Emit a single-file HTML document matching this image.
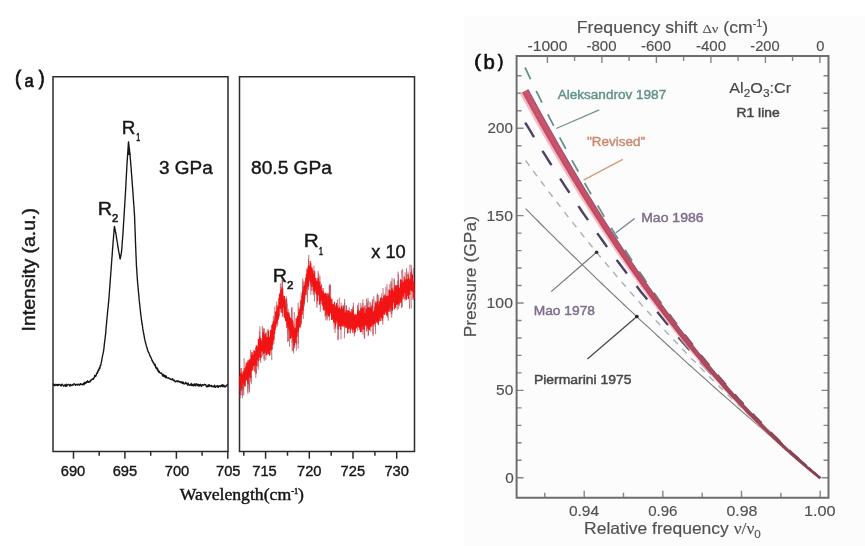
<!DOCTYPE html>
<html><head><meta charset="utf-8"><title>Ruby fluorescence pressure scale</title>
<style>html,body{margin:0;padding:0;background:#fff;}body{width:865px;height:546px;overflow:hidden;}svg{display:block;}</style>
</head><body>
<svg width="865" height="546" viewBox="0 0 865 546">
<rect width="865" height="546" fill="#fff"/>
<rect x="464" y="16" width="401" height="530" fill="#fcfcfc"/>
<g fill="none" stroke="#2b2b2b" stroke-width="1.5">
<path d="M53.0,76.8 H228.0 V451.5 H53.0 Z"/>
<path d="M239.5,76.8 H414.5 V451.5 H239.5 Z"/>
</g>
<path d="M73.5,451.5 v7.2 M124.9,451.5 v7.2 M176.4,451.5 v7.2 M227.8,451.5 v7.2 M99.2,451.5 v4.2 M150.7,451.5 v4.2 M202.1,451.5 v4.2 M265.6,451.5 v7.2 M309.3,451.5 v7.2 M353.0,451.5 v7.2 M396.7,451.5 v7.2 M243.8,451.5 v4.2 M287.5,451.5 v4.2 M331.2,451.5 v4.2 M374.9,451.5 v4.2" stroke="#2b2b2b" stroke-width="1.5" fill="none"/>
<path d="M128.4,144 L127.6,155 L130.6,155 Z" fill="#222"/>
<path d="M53.0,384.7 L53.6,384.3 L54.2,385.7 L54.9,384.2 L55.5,385.5 L56.1,385.1 L56.8,384.4 L57.4,385.6 L58.0,384.4 L58.6,385.4 L59.2,384.3 L59.9,384.3 L60.5,385.1 L61.1,386.1 L61.8,384.2 L62.4,384.4 L63.0,385.3 L63.6,386.2 L64.2,385.3 L64.9,384.9 L65.5,386.4 L66.1,384.1 L66.8,386.2 L67.4,384.8 L68.0,384.5 L68.6,384.4 L69.2,384.8 L69.9,386.1 L70.5,384.4 L71.1,385.4 L71.8,385.5 L72.4,384.8 L73.0,385.2 L73.6,383.9 L74.2,383.9 L74.9,384.2 L75.5,385.4 L76.1,384.7 L76.8,384.3 L77.4,385.0 L78.0,384.6 L78.6,384.1 L79.2,385.2 L79.8,384.9 L80.4,383.6 L81.0,384.3 L81.6,384.1 L82.2,384.9 L82.8,384.4 L83.4,383.2 L84.0,384.8 L84.6,382.3 L85.2,382.9 L85.8,383.5 L86.4,381.7 L87.0,382.3 L87.6,380.8 L88.2,382.2 L88.8,382.2 L89.4,381.4 L90.0,382.0 L90.5,380.1 L91.0,380.6 L91.5,379.9 L92.0,379.5 L92.5,378.7 L93.0,379.3 L93.5,379.1 L94.0,377.4 L94.4,377.4 L94.7,375.4 L95.1,376.5 L95.5,375.9 L95.8,376.3 L96.2,375.3 L96.5,373.4 L96.9,373.2 L97.3,373.4 L97.6,371.3 L98.0,371.9 L98.2,370.5 L98.5,369.8 L98.8,369.1 L99.0,370.3 L99.2,368.0 L99.5,367.7 L99.8,367.5 L100.0,368.2 L100.2,365.5 L100.5,365.9 L100.6,365.5 L100.8,365.3 L100.9,364.6 L101.0,364.0 L101.2,362.7 L101.3,362.3 L101.4,361.6 L101.5,361.7 L101.7,361.1 L101.8,359.6 L101.9,359.0 L102.0,358.4 L102.2,357.8 L102.3,357.5 L102.4,357.0 L102.5,356.0 L102.6,355.0 L102.8,354.9 L102.9,354.2 L103.0,353.8 L103.1,353.7 L103.2,352.7 L103.3,351.9 L103.5,351.4 L103.6,350.8 L103.7,349.5 L103.8,349.9 L103.8,349.1 L103.9,348.6 L104.0,348.0 L104.1,346.9 L104.1,346.3 L104.2,345.3 L104.3,345.4 L104.3,344.1 L104.4,343.5 L104.5,343.1 L104.6,342.4 L104.6,342.0 L104.7,341.1 L104.8,340.4 L104.9,340.0 L104.9,339.3 L105.0,339.0 L105.1,338.0 L105.1,338.4 L105.2,337.5 L105.3,336.4 L105.4,335.9 L105.4,335.4 L105.5,334.8 L105.6,333.9 L105.6,334.2 L105.7,333.8 L105.7,332.5 L105.8,331.9 L105.8,330.9 L105.9,330.3 L105.9,330.0 L106.0,329.3 L106.0,329.3 L106.1,327.9 L106.1,327.1 L106.2,327.6 L106.2,326.5 L106.3,325.5 L106.4,325.3 L106.4,324.1 L106.5,324.1 L106.5,324.0 L106.6,323.3 L106.6,322.5 L106.7,321.4 L106.7,320.9 L106.8,320.0 L106.8,320.1 L106.9,319.3 L106.9,318.9 L107.0,317.8 L107.1,317.1 L107.1,317.2 L107.2,316.8 L107.2,316.0 L107.3,315.4 L107.4,314.8 L107.4,314.1 L107.5,312.9 L107.5,312.6 L107.6,311.8 L107.7,310.8 L107.7,310.2 L107.8,309.9 L107.8,309.3 L107.9,309.2 L108.0,308.9 L108.0,307.7 L108.1,307.7 L108.1,307.2 L108.2,306.5 L108.3,305.2 L108.3,304.5 L108.4,303.9 L108.4,303.2 L108.5,302.6 L108.6,302.5 L108.6,302.3 L108.7,301.6 L108.7,300.6 L108.8,300.2 L108.8,299.8 L108.9,298.3 L108.9,298.4 L109.0,298.1 L109.0,297.3 L109.1,296.7 L109.1,295.7 L109.2,294.8 L109.2,294.9 L109.3,293.7 L109.3,293.7 L109.3,293.3 L109.4,292.0 L109.4,291.4 L109.5,291.4 L109.5,290.6 L109.6,289.3 L109.6,288.6 L109.7,288.1 L109.7,288.4 L109.8,287.6 L109.8,286.2 L109.8,286.5 L109.9,286.0 L109.9,285.0 L110.0,284.1 L110.0,283.7 L110.1,282.6 L110.1,281.8 L110.2,282.4 L110.2,281.4 L110.3,280.6 L110.3,280.5 L110.3,279.3 L110.4,279.2 L110.4,278.6 L110.5,277.3 L110.5,276.7 L110.6,276.2 L110.6,275.5 L110.7,275.3 L110.7,274.3 L110.8,273.9 L110.8,273.0 L110.8,273.3 L110.9,272.0 L110.9,271.5 L111.0,271.1 L111.0,270.9 L111.1,269.7 L111.1,269.7 L111.2,268.6 L111.2,268.0 L111.2,267.4 L111.3,266.2 L111.3,266.1 L111.4,265.2 L111.4,264.4 L111.5,264.8 L111.5,263.4 L111.5,263.2 L111.6,262.9 L111.6,262.1 L111.7,261.2 L111.7,260.8 L111.8,260.3 L111.8,259.9 L111.8,258.5 L111.9,258.5 L111.9,257.5 L112.0,256.9 L112.0,256.9 L112.1,256.0 L112.1,255.5 L112.2,255.1 L112.2,254.7 L112.2,253.5 L112.3,253.1 L112.3,252.4 L112.4,251.8 L112.4,251.4 L112.5,250.5 L112.5,250.0 L112.5,249.4 L112.6,249.3 L112.6,248.4 L112.7,248.0 L112.7,247.5 L112.8,246.1 L112.8,245.8 L112.9,245.7 L112.9,244.9 L113.0,243.5 L113.0,242.9 L113.1,242.6 L113.1,241.6 L113.2,241.2 L113.2,240.4 L113.3,240.5 L113.3,240.0 L113.4,239.5 L113.4,238.0 L113.5,238.1 L113.5,237.4 L113.6,236.2 L113.6,236.5 L113.6,236.0 L113.7,234.5 L113.8,234.7 L113.8,233.5 L113.8,233.0 L113.9,233.0 L114.0,232.2 L114.0,230.8 L114.0,230.5 L114.1,230.0 L114.2,229.2 L114.2,228.4 L114.2,228.0 L114.3,227.9 L114.4,226.4 L114.4,226.5 L114.5,227.0 L114.7,227.1 L114.8,228.1 L114.9,229.0 L115.1,229.5 L115.2,229.6 L115.3,231.3 L115.5,231.7 L115.6,232.6 L115.7,232.2 L115.8,233.0 L115.9,233.3 L116.0,234.8 L116.1,234.8 L116.2,235.3 L116.3,236.3 L116.4,237.5 L116.5,238.0 L116.6,238.0 L116.7,238.5 L116.8,240.0 L116.9,240.2 L117.0,241.0 L117.1,240.9 L117.2,241.5 L117.3,242.9 L117.4,243.2 L117.5,243.4 L117.6,245.0 L117.7,245.3 L117.8,246.1 L117.9,245.9 L118.0,247.4 L118.1,247.1 L118.2,248.7 L118.3,248.8 L118.4,249.3 L118.5,250.2 L118.6,251.3 L118.7,251.1 L118.8,251.6 L118.9,252.6 L119.0,252.9 L119.2,253.4 L119.3,254.1 L119.4,254.5 L119.5,255.3 L119.6,256.1 L119.7,256.7 L119.8,257.9 L120.0,257.9 L120.1,258.8 L120.2,259.0 L120.3,258.6 L120.4,257.6 L120.5,257.3 L120.6,256.4 L120.7,256.6 L120.8,255.8 L121.0,254.7 L121.1,254.4 L121.2,254.4 L121.3,252.8 L121.4,253.0 L121.5,251.9 L121.5,251.4 L121.6,251.2 L121.7,250.0 L121.7,249.5 L121.8,249.1 L121.8,248.9 L121.8,247.5 L121.9,247.5 L122.0,246.7 L122.0,246.0 L122.0,245.1 L122.1,244.4 L122.2,243.5 L122.2,242.9 L122.2,242.3 L122.3,242.4 L122.3,241.2 L122.4,240.5 L122.5,239.8 L122.5,240.1 L122.5,239.5 L122.6,238.7 L122.6,237.6 L122.7,236.9 L122.8,236.4 L122.8,236.0 L122.8,235.0 L122.9,234.7 L122.9,233.9 L122.9,234.2 L123.0,233.6 L123.0,232.5 L123.1,231.5 L123.1,231.8 L123.1,230.4 L123.2,229.8 L123.2,228.8 L123.2,228.7 L123.3,228.2 L123.3,227.6 L123.4,226.6 L123.4,226.4 L123.4,225.2 L123.5,224.9 L123.5,224.1 L123.5,223.9 L123.6,222.9 L123.6,222.2 L123.7,222.0 L123.7,221.3 L123.7,221.1 L123.8,220.4 L123.8,220.1 L123.8,219.4 L123.9,218.9 L123.9,218.5 L124.0,217.3 L124.0,216.6 L124.0,216.8 L124.1,215.2 L124.1,215.3 L124.1,214.6 L124.2,213.2 L124.2,213.6 L124.2,213.0 L124.3,212.1 L124.3,211.6 L124.4,211.1 L124.4,209.7 L124.4,209.6 L124.5,209.0 L124.5,208.7 L124.5,208.1 L124.6,207.5 L124.6,206.6 L124.7,206.4 L124.7,205.5 L124.7,204.9 L124.8,203.8 L124.8,202.9 L124.8,202.5 L124.9,202.1 L124.9,201.2 L124.9,201.5 L125.0,200.5 L125.0,200.0 L125.1,199.4 L125.1,198.9 L125.1,198.0 L125.2,196.9 L125.2,197.2 L125.2,196.5 L125.3,195.6 L125.3,195.1 L125.4,194.6 L125.4,193.3 L125.4,193.5 L125.5,192.3 L125.5,191.5 L125.5,191.1 L125.6,191.1 L125.6,189.8 L125.6,189.9 L125.7,189.5 L125.7,188.3 L125.7,187.6 L125.8,187.1 L125.8,186.7 L125.8,186.2 L125.9,185.4 L125.9,184.9 L125.9,183.6 L126.0,183.1 L126.0,182.6 L126.0,182.6 L126.1,181.4 L126.1,181.1 L126.1,179.8 L126.2,179.3 L126.2,178.9 L126.2,178.8 L126.2,178.2 L126.3,177.6 L126.3,176.5 L126.3,176.2 L126.4,175.5 L126.4,174.9 L126.4,173.9 L126.5,174.2 L126.5,172.8 L126.5,173.1 L126.6,172.4 L126.6,170.7 L126.6,170.6 L126.7,170.5 L126.7,170.0 L126.7,168.8 L126.8,168.0 L126.8,167.3 L126.8,167.6 L126.9,166.1 L126.9,165.9 L126.9,164.8 L127.0,164.6 L127.0,164.5 L127.0,163.0 L127.1,163.2 L127.1,162.2 L127.2,162.0 L127.2,161.2 L127.2,160.0 L127.3,160.2 L127.3,159.1 L127.4,158.0 L127.4,157.4 L127.4,157.3 L127.5,156.7 L127.5,155.9 L127.6,155.1 L127.6,154.7 L127.6,154.1 L127.7,154.1 L127.7,152.5 L127.8,152.8 L127.8,152.3 L127.9,150.8 L127.9,151.2 L127.9,150.3 L128.0,150.0 L128.0,148.6 L128.1,148.1 L128.1,147.5 L128.1,147.6 L128.2,146.6 L128.2,145.7 L128.3,145.1 L128.3,144.4 L128.3,143.5 L128.4,142.9 L128.4,143.2 L128.5,141.9 L128.5,142.1 L128.6,141.9 L128.6,142.5 L128.7,143.4 L128.8,143.7 L128.9,144.5 L128.9,145.8 L129.0,146.3 L129.1,146.9 L129.1,147.3 L129.2,148.2 L129.3,148.9 L129.3,149.0 L129.4,149.8 L129.5,149.6 L129.6,151.1 L129.6,151.3 L129.7,152.3 L129.8,152.8 L129.8,152.9 L129.9,153.3 L129.9,154.9 L130.0,154.6 L130.0,155.6 L130.1,156.0 L130.1,156.6 L130.2,157.7 L130.2,158.6 L130.3,158.3 L130.4,159.4 L130.4,159.6 L130.5,160.5 L130.5,160.9 L130.6,161.2 L130.6,161.8 L130.7,162.4 L130.7,163.9 L130.8,164.0 L130.8,164.3 L130.9,165.7 L130.9,166.4 L131.0,166.4 L131.0,166.6 L131.1,167.3 L131.1,167.8 L131.2,168.7 L131.2,169.0 L131.3,169.8 L131.3,170.4 L131.3,171.4 L131.4,172.4 L131.4,172.8 L131.5,173.0 L131.5,173.6 L131.6,174.4 L131.6,174.8 L131.7,175.4 L131.7,175.6 L131.8,176.5 L131.8,178.0 L131.9,177.6 L131.9,178.6 L131.9,179.4 L132.0,180.3 L132.0,180.1 L132.1,180.8 L132.1,181.4 L132.2,182.1 L132.2,182.8 L132.3,184.0 L132.3,184.5 L132.4,185.1 L132.4,184.7 L132.4,185.4 L132.5,186.8 L132.5,187.6 L132.6,187.7 L132.6,188.5 L132.7,188.4 L132.7,189.4 L132.8,190.7 L132.8,191.2 L132.9,191.8 L132.9,192.6 L132.9,192.3 L133.0,192.7 L133.0,193.4 L133.1,194.4 L133.1,195.2 L133.2,196.2 L133.2,196.5 L133.2,197.0 L133.3,197.8 L133.3,198.0 L133.4,198.7 L133.4,198.7 L133.4,200.2 L133.5,200.2 L133.5,201.6 L133.6,201.9 L133.6,202.1 L133.7,202.4 L133.7,203.2 L133.7,204.3 L133.8,204.9 L133.8,204.9 L133.9,205.4 L133.9,206.6 L134.0,207.2 L134.0,207.6 L134.0,208.0 L134.1,209.1 L134.1,209.0 L134.2,209.9 L134.2,210.7 L134.2,211.9 L134.3,212.1 L134.3,213.0 L134.4,213.2 L134.4,213.5 L134.5,214.1 L134.5,215.6 L134.5,215.8 L134.5,216.0 L134.6,216.2 L134.6,217.4 L134.6,218.2 L134.6,218.5 L134.7,218.9 L134.7,220.0 L134.7,220.9 L134.7,220.7 L134.7,221.0 L134.8,222.0 L134.8,222.7 L134.8,223.6 L134.8,223.6 L134.9,225.0 L134.9,225.5 L134.9,225.8 L134.9,226.0 L134.9,227.6 L135.0,227.4 L135.0,228.6 L135.0,228.5 L135.0,229.1 L135.1,230.3 L135.1,230.4 L135.1,231.7 L135.1,231.8 L135.1,232.0 L135.2,232.7 L135.2,233.5 L135.2,234.4 L135.2,235.3 L135.2,235.0 L135.3,235.9 L135.3,236.3 L135.3,237.8 L135.3,237.4 L135.4,237.9 L135.4,238.5 L135.4,239.5 L135.4,240.7 L135.4,241.3 L135.5,241.7 L135.5,242.6 L135.5,243.1 L135.5,243.0 L135.6,243.4 L135.6,244.9 L135.6,245.3 L135.6,245.0 L135.6,246.4 L135.7,246.7 L135.7,247.3 L135.7,247.8 L135.7,248.2 L135.8,248.6 L135.8,249.6 L135.8,250.3 L135.8,251.6 L135.9,251.2 L135.9,252.8 L135.9,252.5 L135.9,253.3 L136.0,254.5 L136.0,255.1 L136.0,255.2 L136.0,255.4 L136.1,256.5 L136.1,257.0 L136.1,258.2 L136.1,258.0 L136.2,258.8 L136.2,260.0 L136.2,259.6 L136.2,260.7 L136.3,261.7 L136.3,262.3 L136.3,262.0 L136.3,262.6 L136.4,263.3 L136.4,264.9 L136.4,264.7 L136.4,265.9 L136.5,266.7 L136.5,266.6 L136.6,267.1 L136.6,268.5 L136.6,268.7 L136.7,268.9 L136.7,270.1 L136.8,270.2 L136.8,270.7 L136.8,271.0 L136.9,272.5 L136.9,273.3 L137.0,273.6 L137.0,274.5 L137.0,274.0 L137.1,274.9 L137.1,275.8 L137.2,276.9 L137.2,277.5 L137.2,277.5 L137.3,277.9 L137.3,278.7 L137.4,279.4 L137.4,280.5 L137.5,280.2 L137.5,281.6 L137.6,282.1 L137.6,282.8 L137.7,283.4 L137.7,283.8 L137.8,284.0 L137.8,284.6 L137.9,285.3 L137.9,286.4 L138.0,286.2 L138.1,286.9 L138.1,288.2 L138.2,288.2 L138.2,288.6 L138.3,289.1 L138.3,290.4 L138.4,290.7 L138.4,292.1 L138.5,292.6 L138.5,293.3 L138.6,293.1 L138.7,293.4 L138.7,294.1 L138.8,295.1 L138.8,296.0 L138.9,296.3 L138.9,296.7 L139.0,297.5 L139.0,298.3 L139.1,299.0 L139.1,299.7 L139.2,300.4 L139.3,300.8 L139.3,300.7 L139.4,302.2 L139.5,302.2 L139.5,303.1 L139.6,303.4 L139.7,304.5 L139.7,304.4 L139.8,305.1 L139.9,305.7 L139.9,306.2 L140.0,307.7 L140.1,307.9 L140.1,308.2 L140.2,308.9 L140.3,310.2 L140.3,310.2 L140.4,310.5 L140.5,311.8 L140.5,312.2 L140.6,313.2 L140.7,312.7 L140.7,313.8 L140.8,314.8 L140.9,315.4 L140.9,316.1 L141.0,315.6 L141.1,316.6 L141.1,316.9 L141.2,317.6 L141.3,319.2 L141.4,319.3 L141.5,320.3 L141.6,320.2 L141.6,321.4 L141.7,321.5 L141.8,321.9 L141.9,323.1 L142.0,323.9 L142.1,323.5 L142.2,324.7 L142.3,325.3 L142.4,325.5 L142.5,326.2 L142.6,326.6 L142.6,327.2 L142.7,327.9 L142.8,328.9 L142.9,329.6 L143.0,329.6 L143.1,330.0 L143.2,331.0 L143.3,332.1 L143.4,332.1 L143.6,332.9 L143.7,333.4 L143.8,334.7 L143.9,335.1 L144.0,335.1 L144.1,335.8 L144.2,336.7 L144.4,337.6 L144.5,338.3 L144.6,338.3 L144.7,339.0 L144.8,340.2 L145.0,340.5 L145.1,341.0 L145.3,341.6 L145.5,343.0 L145.7,342.8 L145.8,343.8 L146.0,344.1 L146.2,344.8 L146.3,345.9 L146.5,346.7 L146.7,346.6 L146.8,347.0 L147.0,348.2 L147.2,348.2 L147.4,348.6 L147.5,350.3 L147.7,350.3 L148.0,351.4 L148.2,351.4 L148.5,352.6 L148.7,352.7 L149.0,352.9 L149.2,353.3 L149.5,354.5 L149.7,355.2 L150.0,356.1 L150.3,355.7 L150.5,356.9 L150.8,357.2 L151.0,357.9 L151.3,358.1 L151.5,358.8 L151.8,359.7 L152.0,360.7 L152.3,360.3 L152.6,361.3 L152.9,362.2 L153.3,362.9 L153.6,362.5 L153.9,363.0 L154.2,364.5 L154.5,365.1 L154.8,365.0 L155.2,364.4 L155.5,367.2 L155.8,366.3 L156.1,368.2 L156.4,368.0 L156.8,369.0 L157.1,367.8 L157.4,370.0 L157.7,369.0 L158.0,370.0 L158.3,371.7 L158.7,372.2 L159.0,371.0 L159.3,371.7 L159.8,372.5 L160.3,373.2 L160.9,373.3 L161.4,373.0 L161.9,373.7 L162.4,375.4 L163.0,376.2 L163.5,374.4 L164.0,376.2 L164.6,376.9 L165.1,375.3 L165.7,377.7 L166.3,376.1 L166.8,377.6 L167.4,377.8 L168.0,378.2 L168.6,377.7 L169.1,378.2 L169.7,378.9 L170.3,378.8 L170.9,379.6 L171.5,379.3 L172.1,379.6 L172.6,378.7 L173.2,380.5 L173.8,380.5 L174.4,380.1 L175.0,381.7 L175.6,381.9 L176.2,381.3 L176.9,380.7 L177.5,381.7 L178.1,380.9 L178.7,381.1 L179.3,382.1 L180.0,381.4 L180.6,382.5 L181.2,382.8 L181.8,381.7 L182.5,383.4 L183.1,382.0 L183.7,383.8 L184.3,384.0 L185.0,383.4 L185.6,382.3 L186.2,383.6 L186.9,383.4 L187.5,385.0 L188.1,383.0 L188.7,384.9 L189.4,385.4 L190.0,384.8 L190.6,385.1 L191.2,383.5 L191.8,385.6 L192.5,384.4 L193.1,385.7 L193.7,385.7 L194.3,383.8 L194.9,385.5 L195.5,385.9 L196.1,383.7 L196.8,384.5 L197.4,385.6 L198.0,384.1 L198.6,386.1 L199.2,384.6 L199.8,386.0 L200.4,384.3 L201.0,385.2 L201.6,386.4 L202.2,384.6 L202.8,384.7 L203.4,385.4 L204.0,385.0 L204.6,384.3 L205.2,384.7 L205.8,384.6 L206.4,386.7 L207.0,386.1 L207.6,386.7 L208.3,384.8 L208.9,386.5 L209.5,384.8 L210.2,385.9 L210.8,386.2 L211.4,385.5 L212.1,386.9 L212.7,386.1 L213.4,386.2 L214.0,387.1 L214.6,385.1 L215.3,387.4 L215.9,386.5 L216.5,385.9 L217.1,386.9 L217.7,385.5 L218.3,387.4 L218.9,386.3 L219.6,385.7 L220.2,386.7 L220.8,385.8 L221.4,385.1 L222.0,386.5 L222.6,384.7 L223.2,386.7 L223.8,385.2 L224.4,386.2 L225.0,387.1 L225.6,386.0 L226.2,386.2 L226.8,385.3 L227.4,384.4 L228.0,384.5" stroke="#151515" stroke-width="1.35" fill="none" stroke-linejoin="round"/>
<path d="M273.0,335.0 L273.4,315.7 M367.1,320.5 L367.1,303.0 M402.3,291.7 L401.7,270.1 M243.1,376.0 L242.8,395.8 M367.1,319.2 L366.5,298.9 M304.3,291.9 L303.8,307.1 M378.8,312.7 L378.7,295.0 M307.4,280.9 L307.5,302.3 M291.2,329.4 L291.6,307.7 M298.1,327.0 L298.2,348.8 M294.0,332.7 L294.3,312.0 M344.9,318.7 L344.3,338.4 M286.1,316.0 L286.6,299.0 M247.8,374.1 L247.9,393.8 M288.0,321.5 L288.5,341.2 M300.7,316.3 L300.3,299.7 M370.7,319.1 L370.9,331.9 M321.2,297.0 L321.6,283.9 M320.3,295.2 L319.9,275.5 M341.1,318.6 L341.0,339.2 M342.7,317.2 L343.0,304.9 M303.5,296.3 L303.0,311.2 M248.2,368.8 L248.4,383.3 M377.1,312.4 L377.1,295.2 M244.1,379.9 L244.1,358.1 M338.9,316.9 L339.4,297.5 M373.6,314.6 L373.1,336.2 M275.4,322.4 L275.4,311.4 M391.6,302.1 L391.0,280.7 M344.3,322.5 L344.0,311.0 M338.4,318.1 L338.3,339.6 M318.3,292.5 L318.0,270.9 M247.2,375.5 L247.7,361.2 M385.8,306.5 L385.9,287.1 M411.5,287.5 L412.0,275.8 M357.9,322.0 L357.5,304.9 M296.7,329.4 L296.3,318.0 M281.9,297.8 L282.1,279.7 M274.4,327.5 L274.9,306.4 M390.9,299.9 L390.4,311.6 M401.6,290.6 L401.5,308.1 M383.3,305.6 L383.0,288.0 M250.3,365.3 L250.8,381.9 M286.7,315.4 L287.1,303.5 M298.5,322.6 L299.0,306.7 M260.3,349.1 L260.5,359.7 M277.1,314.9 L276.8,301.4 M303.7,297.1 L303.2,319.1 M290.7,328.3 L290.5,339.0 M410.3,284.2 L409.9,264.6 M240.8,378.4 L240.8,394.8 M398.7,291.0 L398.3,274.1 M374.2,313.1 L373.7,325.5 M346.1,318.7 L346.2,305.4 M363.3,317.9 L362.8,334.9 M367.6,316.6 L368.0,297.9 M298.7,323.2 L298.1,343.6 M398.4,292.0 L398.0,271.6 M384.8,305.4 L384.9,293.5 M241.3,380.0 L240.8,395.4 M364.5,318.5 L364.7,338.9 M306.7,283.6 L307.2,294.3 M326.3,304.0 L325.8,320.4 M408.3,283.8 L408.0,271.6 M382.3,309.9 L381.9,298.8 M243.6,378.3 L243.8,395.2 M258.3,348.2 L257.9,366.8 M326.1,301.4 L326.0,314.8 M264.3,340.6 L264.3,361.0 M370.0,321.6 L369.9,301.7 M313.5,279.0 L314.0,295.3 M375.3,313.8 L375.2,300.9 M410.7,287.4 L411.2,308.3 M249.8,371.0 L249.5,392.5 M313.7,280.4 L313.2,294.8 M315.6,282.1 L316.2,292.4 M375.2,316.7 L375.7,334.3 M394.0,296.0 L394.2,278.3 M287.9,321.0 L287.6,342.1 M330.8,306.1 L330.5,284.7 M352.8,324.2 L352.9,307.0 M287.1,316.1 L286.6,299.7 M263.3,342.4 L263.0,327.6 M255.7,357.9 L255.8,378.0 M353.3,321.1 L353.4,302.6 M346.8,319.2 L346.5,305.5 M329.4,302.7 L329.2,285.7 M390.0,300.9 L389.8,284.2 M411.8,284.2 L411.3,264.9 M391.7,298.8 L391.6,288.1 M368.1,321.9 L368.4,309.2 M267.3,344.0 L267.4,329.7 M388.0,304.5 L388.3,320.7 M372.3,318.4 L372.8,299.0 M262.6,346.0 L262.7,356.1 M326.9,303.6 L327.2,320.5 M391.9,299.0 L391.9,313.5 M366.0,319.7 L365.8,305.0 M296.4,330.6 L296.3,350.8 M272.5,336.1 L272.6,324.3 M255.8,359.2 L256.2,373.1 M406.8,289.7 L406.3,274.6 M248.7,372.8 L249.1,388.8 M333.9,313.2 L334.2,329.4 M308.1,276.5 L308.6,259.3 M357.9,319.7 L357.7,330.9 M337.9,319.5 L337.9,340.1 M316.9,285.8 L316.9,307.7 M382.1,311.8 L382.4,298.0 M329.4,306.8 L329.8,286.1 M412.3,284.5 L412.1,299.5 M329.3,303.7 L329.4,315.9 M345.1,320.9 L344.6,299.0 M311.9,277.3 L311.3,291.0 M293.3,333.2 L293.0,350.2 M326.9,305.0 L326.9,318.2 M413.5,285.1 L413.1,300.0 M372.3,315.2 L372.3,304.0 M383.3,305.1 L382.7,324.7 M374.2,314.8 L373.8,296.2 M286.8,317.4 L286.6,296.6 M318.5,292.4 L318.6,281.8 M407.0,285.6 L406.4,268.2 M402.0,293.0 L402.4,306.8 M293.2,332.0 L293.7,353.5 M282.6,298.6 L282.4,279.9 M392.4,297.3 L392.0,277.8 M302.7,300.0 L302.8,278.4 M260.4,346.0 L259.9,360.6 M261.9,343.6 L261.5,357.8 M289.7,325.5 L289.5,315.1 M267.5,341.6 L267.9,352.7 M262.7,346.2 L262.3,326.1 M301.7,310.3 L301.4,324.8 M405.5,287.9 L405.0,300.6 M363.1,320.2 L362.9,299.4 M283.2,303.2 L282.8,315.8 M329.5,307.3 L329.4,320.6 M354.6,320.4 L354.1,334.2 M271.2,340.8 L270.7,354.7 M338.0,315.6 L337.5,299.6 M294.5,335.5 L294.2,324.0 M310.5,275.4 L310.9,294.7 M263.4,344.6 L263.6,334.3 M301.5,310.5 L301.2,292.6 M387.4,301.7 L386.9,284.1 M398.9,290.3 L398.3,308.8 M268.6,342.7 L268.1,329.1 M294.4,336.1 L294.5,348.3 M364.8,320.6 L364.7,305.4 M240.7,379.2 L240.1,398.5 M388.7,300.8 L388.2,311.3 M377.8,314.2 L377.3,293.3 M361.0,321.9 L360.8,302.9 M256.1,358.9 L256.3,374.0 M368.6,318.9 L368.1,336.4 M361.6,322.4 L361.2,306.3 M372.7,318.7 L372.4,300.2 M335.3,315.4 L335.0,333.1 M250.8,364.8 L250.6,349.8 M264.2,341.2 L263.9,359.3 M329.9,305.1 L329.7,283.8 M394.0,296.4 L394.4,279.6 M335.6,316.4 L335.7,328.4 M320.5,291.7 L320.3,311.7 M303.0,297.6 L302.7,286.9 M362.2,318.7 L362.2,307.4 M303.5,293.1 L304.1,282.3 M370.7,321.3 L370.8,302.7 M259.4,346.6 L259.4,331.4 M241.9,380.2 L242.5,397.9 M353.7,319.1 L353.2,306.1 M374.9,313.2 L375.0,326.8 M387.2,305.5 L387.6,317.5 M369.3,321.0 L369.1,308.8 M304.4,291.7 L304.1,306.1 M247.7,374.1 L247.9,391.7 M397.6,294.2 L397.1,310.1 M292.5,331.9 L292.1,342.9 M317.4,285.0 L317.3,296.1 M273.6,333.8 L274.0,343.8 M377.0,314.3 L377.0,300.9 M313.6,280.9 L314.0,265.6 M397.3,294.0 L397.4,280.5 M300.9,312.0 L300.8,301.0 M409.0,288.5 L409.6,308.9 M348.0,322.3 L348.2,333.0 M292.0,329.9 L292.2,351.4 M292.4,327.9 L292.1,307.3 M358.3,321.3 L358.1,310.3 M341.3,318.9 L341.1,302.5 M260.3,347.0 L259.9,326.3 M390.1,301.1 L389.8,290.0 M325.4,303.7 L324.9,316.4 M329.5,305.2 L329.0,316.1 M316.8,287.8 L317.1,304.4 M260.4,344.2 L260.8,362.9 M308.5,276.6 L308.8,255.0 M264.2,341.2 L264.1,351.9 M243.1,377.3 L243.4,389.9 M314.4,283.9 L314.5,301.4 M399.7,293.8 L399.5,305.8 M373.0,314.3 L372.8,334.3 M368.4,316.4 L368.5,335.1 M257.8,350.0 L258.3,369.6 M357.7,320.2 L358.1,307.8 M341.4,316.2 L341.7,306.0 M272.6,336.1 L272.5,349.6 M265.5,343.3 L265.9,359.8 M405.1,286.3 L405.1,272.2 M392.0,297.3 L392.4,307.7 M358.4,318.3 L358.8,302.6 M308.8,272.9 L308.6,290.3 M278.0,309.1 L277.6,326.2 M303.1,297.7 L303.0,280.7 M241.5,376.9 L241.5,390.9 M411.6,287.1 L411.4,275.4 M287.9,320.6 L288.0,333.8 M406.5,287.8 L406.9,298.2 M391.9,300.1 L391.7,317.7 M289.4,326.3 L289.6,346.8 M293.2,332.1 L293.4,351.0 M301.3,307.8 L301.1,322.7 M296.6,329.2 L296.3,344.9 M281.2,298.2 L281.7,286.6 M319.1,290.0 L318.7,273.2 M252.0,365.7 L252.1,352.0 M403.1,290.3 L402.6,269.2 M271.5,338.0 L271.8,359.9 M314.8,282.5 L315.3,293.3 M288.4,319.3 L288.1,309.0 M362.7,317.9 L362.8,303.1 M390.4,302.0 L391.0,314.4 M344.8,322.2 L344.6,302.5 M264.2,345.0 L264.4,328.6 M400.6,293.1 L400.8,279.1 M310.8,271.2 L310.7,285.2 M248.4,370.9 L248.5,384.9 M285.1,312.0 L285.2,301.8 M411.8,287.6 L411.6,270.2 M256.7,356.5 L256.2,344.8 M381.7,309.8 L381.8,293.3 M354.6,322.5 L354.3,336.5 M363.9,318.5 L364.3,337.8 M410.1,285.2 L410.6,271.9 M263.4,344.6 L263.7,328.8 M303.4,298.1 L302.9,310.9 M245.3,376.4 L245.4,365.7 M272.0,334.9 L271.7,349.3 M368.5,316.3 L368.8,328.3 M282.6,301.1 L282.4,317.1 M379.4,313.9 L378.9,300.0 M367.7,318.6 L368.2,300.9 M250.9,368.9 L251.4,383.8 M349.3,320.3 L349.2,307.3 M280.6,302.4 L280.4,283.3 M413.0,284.9 L413.4,268.1 M391.3,301.8 L391.1,282.7 M298.0,323.3 L298.2,302.6 M344.2,322.0 L343.8,305.0" stroke="#b8404c" stroke-width="0.9" fill="none" opacity="0.85"/>
<path d="M239.80,376.1 L240.12,390.4 L240.44,372.8 L240.76,389.0 L241.08,368.1 L241.40,385.1 L241.72,373.6 L242.04,389.2 L242.36,374.9 L242.68,382.9 L243.00,371.4 L243.32,383.3 L243.64,370.9 L243.96,383.9 L244.28,368.3 L244.60,386.6 L244.92,371.2 L245.24,386.2 L245.56,367.7 L245.88,380.6 L246.20,362.4 L246.52,380.5 L246.84,368.3 L247.16,378.0 L247.48,362.8 L247.80,383.8 L248.12,360.3 L248.44,378.4 L248.76,363.9 L249.08,373.8 L249.40,359.3 L249.72,377.6 L250.04,360.8 L250.36,377.2 L250.68,358.8 L251.00,378.6 L251.32,355.0 L251.64,371.3 L251.96,352.3 L252.28,368.3 L252.60,354.5 L252.92,370.4 L253.24,356.0 L253.56,366.1 L253.88,350.0 L254.20,364.6 L254.52,350.9 L254.84,371.8 L255.16,353.3 L255.48,363.6 L255.80,347.6 L256.12,364.9 L256.44,345.8 L256.76,366.1 L257.08,348.4 L257.40,360.0 L257.72,345.8 L258.04,356.1 L258.36,338.9 L258.68,361.2 L259.00,339.0 L259.32,352.7 L259.64,336.3 L259.96,357.8 L260.28,338.5 L260.60,357.1 L260.92,338.0 L261.24,351.8 L261.56,340.5 L261.88,351.2 L262.20,340.5 L262.52,351.5 L262.84,333.4 L263.16,354.1 L263.48,331.9 L263.80,353.6 L264.12,336.5 L264.44,351.5 L264.76,334.3 L265.08,353.1 L265.40,333.5 L265.72,348.7 L266.04,332.6 L266.36,355.2 L266.68,336.7 L267.00,354.7 L267.32,338.8 L267.64,349.4 L267.96,337.1 L268.28,354.0 L268.60,330.9 L268.92,354.3 L269.24,336.8 L269.56,355.7 L269.88,337.0 L270.20,349.5 L270.52,330.1 L270.84,350.8 L271.16,329.8 L271.48,349.0 L271.80,325.1 L272.12,345.0 L272.44,324.1 L272.76,344.9 L273.08,321.8 L273.40,340.4 L273.72,320.8 L274.04,339.4 L274.36,322.4 L274.68,334.0 L275.00,317.4 L275.32,330.1 L275.64,311.6 L275.96,327.5 L276.28,316.4 L276.60,324.0 L276.92,305.0 L277.24,322.9 L277.56,308.9 L277.88,316.9 L278.20,306.6 L278.52,319.6 L278.84,298.1 L279.16,316.5 L279.48,294.0 L279.80,307.6 L280.12,292.6 L280.44,309.0 L280.76,290.1 L281.08,312.7 L281.40,289.0 L281.72,305.4 L282.04,288.8 L282.36,312.7 L282.68,287.7 L283.00,305.0 L283.32,295.6 L283.64,307.9 L283.96,300.0 L284.28,317.4 L284.60,295.9 L284.92,318.3 L285.24,298.7 L285.56,321.2 L285.88,306.4 L286.20,319.3 L286.52,311.0 L286.84,328.1 L287.16,312.5 L287.48,326.0 L287.80,312.1 L288.12,324.9 L288.44,315.1 L288.76,328.8 L289.08,312.6 L289.40,331.1 L289.72,317.6 L290.04,338.0 L290.36,317.5 L290.68,338.5 L291.00,318.0 L291.32,332.6 L291.64,321.4 L291.96,337.8 L292.28,319.5 L292.60,338.1 L292.92,321.2 L293.24,340.9 L293.56,326.7 L293.88,344.9 L294.20,328.8 L294.52,345.6 L294.84,329.2 L295.16,338.5 L295.48,327.6 L295.80,343.3 L296.12,318.6 L296.44,334.4 L296.76,321.0 L297.08,336.8 L297.40,316.1 L297.72,332.0 L298.04,316.8 L298.36,331.4 L298.68,311.7 L299.00,328.5 L299.32,308.7 L299.64,326.7 L299.96,313.2 L300.28,327.4 L300.60,306.6 L300.92,317.9 L301.24,301.1 L301.56,313.4 L301.88,295.5 L302.20,314.8 L302.52,291.3 L302.84,309.9 L303.16,290.9 L303.48,303.6 L303.80,286.4 L304.12,303.8 L304.44,284.9 L304.76,299.6 L305.08,281.5 L305.40,290.7 L305.72,277.6 L306.04,295.2 L306.36,273.7 L306.68,288.7 L307.00,268.4 L307.32,285.6 L307.64,270.5 L307.96,286.5 L308.28,266.0 L308.60,286.7 L308.92,265.2 L309.24,281.3 L309.56,266.3 L309.88,277.7 L310.20,260.9 L310.52,283.1 L310.84,263.2 L311.16,280.1 L311.48,267.3 L311.80,286.9 L312.12,267.5 L312.44,282.5 L312.76,269.9 L313.08,290.7 L313.40,273.3 L313.72,285.9 L314.04,274.2 L314.36,291.9 L314.68,270.7 L315.00,288.4 L315.32,278.2 L315.64,290.5 L315.96,278.0 L316.28,294.3 L316.60,280.8 L316.92,293.8 L317.24,281.8 L317.56,300.9 L317.88,278.2 L318.20,294.3 L318.52,277.4 L318.84,295.6 L319.16,283.9 L319.48,304.8 L319.80,281.4 L320.12,303.8 L320.44,286.0 L320.76,300.3 L321.08,285.4 L321.40,300.8 L321.72,290.6 L322.04,304.6 L322.36,293.4 L322.68,306.0 L323.00,287.9 L323.32,309.9 L323.64,291.8 L323.96,310.6 L324.28,293.4 L324.60,307.5 L324.92,293.4 L325.24,310.8 L325.56,292.7 L325.88,315.7 L326.20,295.8 L326.52,313.1 L326.84,293.4 L327.16,312.1 L327.48,298.4 L327.80,315.2 L328.12,293.0 L328.44,316.0 L328.76,295.0 L329.08,317.1 L329.40,295.5 L329.72,315.6 L330.04,298.0 L330.36,313.5 L330.68,297.6 L331.00,312.7 L331.32,300.6 L331.64,320.0 L331.96,299.1 L332.28,319.8 L332.60,304.4 L332.92,319.1 L333.24,303.7 L333.56,322.0 L333.88,305.3 L334.20,323.6 L334.52,301.8 L334.84,320.4 L335.16,305.2 L335.48,326.3 L335.80,308.0 L336.12,324.1 L336.44,303.1 L336.76,320.4 L337.08,307.4 L337.40,321.9 L337.72,305.6 L338.04,329.3 L338.36,308.3 L338.68,322.1 L339.00,308.2 L339.32,326.5 L339.64,307.3 L339.96,326.6 L340.28,308.4 L340.60,329.7 L340.92,309.7 L341.24,326.2 L341.56,306.1 L341.88,324.6 L342.20,308.7 L342.52,326.5 L342.84,308.3 L343.16,324.4 L343.48,306.5 L343.80,326.7 L344.12,315.1 L344.44,326.2 L344.76,312.3 L345.08,324.2 L345.40,312.4 L345.72,328.1 L346.04,310.1 L346.36,327.7 L346.68,314.3 L347.00,326.8 L347.32,310.3 L347.64,333.5 L347.96,312.4 L348.28,327.3 L348.60,310.2 L348.92,329.1 L349.24,315.8 L349.56,327.0 L349.88,311.0 L350.20,333.2 L350.52,312.2 L350.84,330.1 L351.16,312.7 L351.48,327.7 L351.80,309.0 L352.12,328.8 L352.44,311.8 L352.76,332.8 L353.08,310.0 L353.40,329.5 L353.72,314.6 L354.04,330.1 L354.36,316.0 L354.68,332.6 L355.00,313.8 L355.32,332.6 L355.64,314.5 L355.96,328.2 L356.28,314.5 L356.60,328.5 L356.92,314.9 L357.24,324.6 L357.56,310.0 L357.88,327.0 L358.20,314.2 L358.52,327.0 L358.84,311.9 L359.16,328.0 L359.48,310.4 L359.80,330.0 L360.12,312.7 L360.44,332.3 L360.76,308.2 L361.08,324.4 L361.40,308.4 L361.72,332.0 L362.04,308.7 L362.36,325.0 L362.68,308.3 L363.00,329.4 L363.32,315.5 L363.64,323.7 L363.96,307.0 L364.28,329.5 L364.60,313.3 L364.92,324.4 L365.24,314.2 L365.56,325.5 L365.88,308.4 L366.20,326.5 L366.52,314.0 L366.84,331.5 L367.16,308.2 L367.48,324.8 L367.80,307.2 L368.12,328.7 L368.44,308.1 L368.76,329.1 L369.08,307.0 L369.40,330.2 L369.72,307.5 L370.04,324.7 L370.36,308.5 L370.68,327.2 L371.00,307.5 L371.32,325.9 L371.64,305.7 L371.96,326.4 L372.28,310.8 L372.60,323.0 L372.92,311.4 L373.24,324.8 L373.56,311.6 L373.88,324.1 L374.20,310.3 L374.52,323.8 L374.84,306.6 L375.16,323.7 L375.48,302.9 L375.80,318.4 L376.12,302.5 L376.44,322.1 L376.76,304.5 L377.08,323.3 L377.40,301.5 L377.72,320.2 L378.04,304.8 L378.36,325.0 L378.68,307.4 L379.00,321.5 L379.32,301.8 L379.64,315.5 L379.96,301.5 L380.28,320.9 L380.60,298.0 L380.92,317.1 L381.24,296.9 L381.56,318.0 L381.88,300.8 L382.20,320.9 L382.52,304.2 L382.84,318.6 L383.16,298.2 L383.48,314.6 L383.80,295.4 L384.12,314.2 L384.44,298.3 L384.76,315.0 L385.08,295.0 L385.40,311.5 L385.72,297.4 L386.04,312.8 L386.36,295.7 L386.68,315.8 L387.00,297.4 L387.32,315.1 L387.64,295.7 L387.96,311.6 L388.28,296.3 L388.60,311.0 L388.92,289.3 L389.24,311.7 L389.56,290.3 L389.88,308.1 L390.20,294.0 L390.52,307.2 L390.84,291.0 L391.16,309.7 L391.48,288.6 L391.80,303.7 L392.12,288.6 L392.44,310.8 L392.76,289.6 L393.08,302.7 L393.40,291.2 L393.72,301.7 L394.04,291.7 L394.36,309.4 L394.68,287.3 L395.00,306.4 L395.32,285.1 L395.64,308.1 L395.96,286.1 L396.28,304.9 L396.60,285.4 L396.92,305.0 L397.24,285.1 L397.56,304.3 L397.88,288.0 L398.20,303.6 L398.52,285.2 L398.84,303.9 L399.16,287.8 L399.48,298.1 L399.80,287.8 L400.12,302.9 L400.44,279.5 L400.76,301.4 L401.08,283.9 L401.40,302.4 L401.72,279.7 L402.04,299.6 L402.36,284.0 L402.68,296.8 L403.00,282.1 L403.32,296.5 L403.64,281.6 L403.96,299.0 L404.28,276.6 L404.60,293.3 L404.92,279.4 L405.24,292.7 L405.56,283.0 L405.88,299.2 L406.20,278.5 L406.52,299.7 L406.84,279.2 L407.16,291.1 L407.48,279.3 L407.80,295.9 L408.12,273.9 L408.44,298.9 L408.76,277.6 L409.08,293.4 L409.40,280.5 L409.72,295.0 L410.04,279.1 L410.36,290.6 L410.68,281.3 L411.00,289.7 L411.32,275.7 L411.64,291.2 L411.96,273.6 L412.28,291.3 L412.60,274.9 L412.92,292.1 L413.24,283.0 L413.56,297.8 L413.88,281.4 L414.20,298.4" stroke="#f21414" stroke-width="1.1" fill="none"/>
<path d="M547.4,56.0 v7 M574.6,56.0 v5 M601.9,56.0 v7 M629.1,56.0 v5 M656.4,56.0 v7 M683.6,56.0 v5 M710.9,56.0 v7 M738.1,56.0 v5 M765.4,56.0 v7 M792.6,56.0 v5 M819.9,56.0 v7 M544.8,497.7 v-5 M584.2,497.7 v-7 M623.5,497.7 v-5 M662.8,497.7 v-7 M702.2,497.7 v-5 M741.5,497.7 v-7 M780.9,497.7 v-5 M820.2,497.7 v-7 M516.6,477.8 h7 M828.5,477.8 h-7 M516.6,460.3 h5 M828.5,460.3 h-5 M516.6,442.8 h5 M828.5,442.8 h-5 M516.6,425.4 h5 M828.5,425.4 h-5 M516.6,407.9 h5 M828.5,407.9 h-5 M516.6,390.4 h7 M828.5,390.4 h-7 M516.6,372.9 h5 M828.5,372.9 h-5 M516.6,355.4 h5 M828.5,355.4 h-5 M516.6,338.0 h5 M828.5,338.0 h-5 M516.6,320.5 h5 M828.5,320.5 h-5 M516.6,303.0 h7 M828.5,303.0 h-7 M516.6,285.5 h5 M828.5,285.5 h-5 M516.6,268.0 h5 M828.5,268.0 h-5 M516.6,250.6 h5 M828.5,250.6 h-5 M516.6,233.1 h5 M828.5,233.1 h-5 M516.6,215.6 h7 M828.5,215.6 h-7 M516.6,198.1 h5 M828.5,198.1 h-5 M516.6,180.6 h5 M828.5,180.6 h-5 M516.6,163.2 h5 M828.5,163.2 h-5 M516.6,145.7 h5 M828.5,145.7 h-5 M516.6,128.2 h7 M828.5,128.2 h-7 M516.6,110.7 h5 M828.5,110.7 h-5 M516.6,93.2 h5 M828.5,93.2 h-5 M516.6,75.8 h5 M828.5,75.8 h-5" stroke="#858585" stroke-width="1.4" fill="none"/>
<path d="M525.6,208.7 L528.1,211.2 L530.5,213.7 L533.0,216.1 L535.4,218.6 L537.9,221.0 L540.3,223.5 L542.8,226.0 L545.2,228.4 L547.7,230.8 L550.1,233.3 L552.6,235.7 L555.1,238.1 L557.5,240.6 L560.0,243.0 L562.4,245.4 L564.9,247.8 L567.3,250.2 L569.8,252.6 L572.2,255.0 L574.7,257.4 L577.2,259.8 L579.6,262.2 L582.1,264.6 L584.5,266.9 L587.0,269.3 L589.4,271.7 L591.9,274.1 L594.3,276.4 L596.8,278.8 L599.2,281.1 L601.7,283.5 L604.2,285.8 L606.6,288.2 L609.1,290.5 L611.5,292.8 L614.0,295.2 L616.4,297.5 L618.9,299.8 L621.3,302.1 L623.8,304.5 L626.3,306.8 L628.7,309.1 L631.2,311.4 L633.6,313.7 L636.1,316.0 L638.5,318.3 L641.0,320.6 L643.4,322.8 L645.9,325.1 L648.4,327.4 L650.8,329.7 L653.3,331.9 L655.7,334.2 L658.2,336.5 L660.6,338.7 L663.1,341.0 L665.5,343.2 L668.0,345.5 L670.4,347.7 L672.9,350.0 L675.4,352.2 L677.8,354.4 L680.3,356.7 L682.7,358.9 L685.2,361.1 L687.6,363.3 L690.1,365.5 L692.5,367.7 L695.0,369.9 L697.5,372.1 L699.9,374.3 L702.4,376.5 L704.8,378.7 L707.3,380.9 L709.7,383.1 L712.2,385.3 L714.6,387.5 L717.1,389.6 L719.5,391.8 L722.0,394.0 L724.5,396.1 L726.9,398.3 L729.4,400.4 L731.8,402.6 L734.3,404.7 L736.7,406.9 L739.2,409.0 L741.6,411.2 L744.1,413.3 L746.6,415.4 L749.0,417.6 L751.5,419.7 L753.9,421.8 L756.4,423.9 L758.8,426.0 L761.3,428.2 L763.7,430.3 L766.2,432.4 L768.6,434.5 L771.1,436.6 L773.6,438.7 L776.0,440.7 L778.5,442.8 L780.9,444.9 L783.4,447.0 L785.8,449.1 L788.3,451.1 L790.7,453.2 L793.2,455.3 L795.7,457.3 L798.1,459.4 L800.6,461.5 L803.0,463.5 L805.5,465.6 L807.9,467.6 L810.4,469.7 L812.8,471.7 L815.3,473.7 L817.7,475.8 L820.2,477.8" stroke="#787878" stroke-width="1.1" fill="none"/>
<path d="M525.6,160.5 L528.1,163.8 L530.5,167.2 L533.0,170.5 L535.4,173.8 L537.9,177.2 L540.3,180.5 L542.8,183.7 L545.2,187.0 L547.7,190.3 L550.1,193.5 L552.6,196.7 L555.1,199.9 L557.5,203.1 L560.0,206.3 L562.4,209.5 L564.9,212.6 L567.3,215.8 L569.8,218.9 L572.2,222.0 L574.7,225.1 L577.2,228.2 L579.6,231.3 L582.1,234.4 L584.5,237.4 L587.0,240.5 L589.4,243.5 L591.9,246.5 L594.3,249.5 L596.8,252.5 L599.2,255.5 L601.7,258.4 L604.2,261.4 L606.6,264.3 L609.1,267.2 L611.5,270.1 L614.0,273.0 L616.4,275.9 L618.9,278.8 L621.3,281.6 L623.8,284.5 L626.3,287.3 L628.7,290.2 L631.2,293.0 L633.6,295.8 L636.1,298.6 L638.5,301.3 L641.0,304.1 L643.4,306.9 L645.9,309.6 L648.4,312.3 L650.8,315.0 L653.3,317.8 L655.7,320.4 L658.2,323.1 L660.6,325.8 L663.1,328.5 L665.5,331.1 L668.0,333.8 L670.4,336.4 L672.9,339.0 L675.4,341.6 L677.8,344.2 L680.3,346.8 L682.7,349.4 L685.2,351.9 L687.6,354.5 L690.1,357.0 L692.5,359.6 L695.0,362.1 L697.5,364.6 L699.9,367.1 L702.4,369.6 L704.8,372.1 L707.3,374.5 L709.7,377.0 L712.2,379.4 L714.6,381.9 L717.1,384.3 L719.5,386.7 L722.0,389.1 L724.5,391.5 L726.9,393.9 L729.4,396.3 L731.8,398.7 L734.3,401.0 L736.7,403.4 L739.2,405.7 L741.6,408.1 L744.1,410.4 L746.6,412.7 L749.0,415.0 L751.5,417.3 L753.9,419.6 L756.4,421.8 L758.8,424.1 L761.3,426.4 L763.7,428.6 L766.2,430.8 L768.6,433.1 L771.1,435.3 L773.6,437.5 L776.0,439.7 L778.5,441.9 L780.9,444.1 L783.4,446.2 L785.8,448.4 L788.3,450.6 L790.7,452.7 L793.2,454.8 L795.7,457.0 L798.1,459.1 L800.6,461.2 L803.0,463.3 L805.5,465.4 L807.9,467.5 L810.4,469.6 L812.8,471.6 L815.3,473.7 L817.7,475.8 L820.2,477.8" stroke="#acacbc" stroke-width="1.4" fill="none" stroke-dasharray="6.5,6.4"/>
<defs><linearGradient id="ag" gradientUnits="userSpaceOnUse" x1="525" y1="0" x2="820" y2="0"><stop offset="0" stop-color="#6a8f8a"/><stop offset="0.38" stop-color="#6a8f8a"/><stop offset="0.55" stop-color="#94485a"/><stop offset="1" stop-color="#7a3a40"/></linearGradient></defs>
<path d="M525.0,67.5 L527.5,72.7 L529.9,77.9 L532.4,83.0 L534.8,88.1 L537.3,93.2 L539.8,98.2 L542.2,103.2 L544.7,108.1 L547.1,113.0 L549.6,117.8 L552.1,122.7 L554.5,127.4 L557.0,132.2 L559.4,136.9 L561.9,141.6 L564.4,146.2 L566.8,150.8 L569.3,155.4 L571.7,159.9 L574.2,164.4 L576.7,168.8 L579.1,173.3 L581.6,177.6 L584.0,182.0 L586.5,186.3 L589.0,190.6 L591.4,194.9 L593.9,199.1 L596.3,203.3 L598.8,207.4 L601.3,211.6 L603.7,215.7 L606.2,219.7 L608.6,223.7 L611.1,227.7 L613.6,231.7 L616.0,235.7 L618.5,239.6 L620.9,243.5 L623.4,247.3 L625.9,251.1 L628.3,254.9 L630.8,258.7 L633.2,262.4 L635.7,266.1 L638.2,269.8 L640.6,273.4 L643.1,277.1 L645.5,280.7 L648.0,284.2 L650.5,287.8 L652.9,291.3 L655.4,294.8 L657.8,298.2 L660.3,301.7 L662.8,305.1 L665.2,308.5 L667.7,311.8 L670.1,315.1 L672.6,318.5 L675.1,321.7 L677.5,325.0 L680.0,328.2 L682.4,331.4 L684.9,334.6 L687.4,337.8 L689.8,340.9 L692.3,344.0 L694.7,347.1 L697.2,350.2 L699.7,353.2 L702.1,356.3 L704.6,359.3 L707.0,362.2 L709.5,365.2 L712.0,368.1 L714.4,371.0 L716.9,373.9 L719.3,376.8 L721.8,379.6 L724.3,382.5 L726.7,385.3 L729.2,388.0 L731.6,390.8 L734.1,393.5 L736.6,396.3 L739.0,399.0 L741.5,401.6 L743.9,404.3 L746.4,407.0 L748.9,409.6 L751.3,412.2 L753.8,414.8 L756.2,417.3 L758.7,419.9 L761.2,422.4 L763.6,424.9 L766.1,427.4 L768.5,429.9 L771.0,432.3 L773.5,434.8 L775.9,437.2 L778.4,439.6 L780.8,442.0 L783.3,444.3 L785.8,446.7 L788.2,449.0 L790.7,451.3 L793.1,453.6 L795.6,455.9 L798.1,458.2 L800.5,460.4 L803.0,462.6 L805.4,464.8 L807.9,467.0 L810.4,469.2 L812.8,471.4 L815.3,473.5 L817.7,475.7 L820.2,477.8" stroke="url(#ag)" stroke-width="1.8" fill="none" stroke-dasharray="13,13"/>
<defs><linearGradient id="rg" gradientUnits="userSpaceOnUse" x1="525" y1="0" x2="820" y2="0"><stop offset="0" stop-color="#c44862"/><stop offset="0.4" stop-color="#bc3e54"/><stop offset="0.6" stop-color="#a63b4e"/><stop offset="0.8" stop-color="#8e3844"/><stop offset="1" stop-color="#743236"/></linearGradient><linearGradient id="hg" gradientUnits="userSpaceOnUse" x1="525" y1="0" x2="820" y2="0"><stop offset="0" stop-color="#f2a6b6"/><stop offset="0.6" stop-color="#f4b4c0"/><stop offset="1" stop-color="#f8d0d0"/></linearGradient></defs>
<path d="M525.2,122.6 L527.7,126.7 L530.1,130.7 L532.6,134.8 L535.0,138.8 L537.5,142.8 L540.0,146.8 L542.4,150.8 L544.9,154.7 L547.3,158.6 L549.8,162.5 L552.2,166.4 L554.7,170.2 L557.2,174.0 L559.6,177.8 L562.1,181.6 L564.5,185.3 L567.0,189.1 L569.5,192.8 L571.9,196.5 L574.4,200.1 L576.8,203.8 L579.3,207.4 L581.7,211.0 L584.2,214.6 L586.7,218.1 L589.1,221.7 L591.6,225.2 L594.0,228.7 L596.5,232.2 L599.0,235.6 L601.4,239.0 L603.9,242.5 L606.3,245.9 L608.8,249.2 L611.2,252.6 L613.7,255.9 L616.2,259.2 L618.6,262.5 L621.1,265.8 L623.5,269.1 L626.0,272.3 L628.5,275.5 L630.9,278.7 L633.4,281.9 L635.8,285.1 L638.3,288.2 L640.7,291.4 L643.2,294.5 L645.7,297.6 L648.1,300.7 L650.6,303.7 L653.0,306.8 L655.5,309.8 L658.0,312.8 L660.4,315.8 L662.9,318.8 L665.3,321.7 L667.8,324.6 L670.2,327.6 L672.7,330.5 L675.2,333.4 L677.6,336.2 L680.1,339.1 L682.5,341.9 L685.0,344.7 L687.5,347.6 L689.9,350.3 L692.4,353.1 L694.8,355.9 L697.3,358.6 L699.7,361.3 L702.2,364.1 L704.7,366.8 L707.1,369.4 L709.6,372.1 L712.0,374.8 L714.5,377.4 L717.0,380.0 L719.4,382.6 L721.9,385.2 L724.3,387.8 L726.8,390.3 L729.2,392.9 L731.7,395.4 L734.2,398.0 L736.6,400.5 L739.1,402.9 L741.5,405.4 L744.0,407.9 L746.5,410.3 L748.9,412.8 L751.4,415.2 L753.8,417.6 L756.3,420.0 L758.7,422.4 L761.2,424.7 L763.7,427.1 L766.1,429.4 L768.6,431.8 L771.0,434.1 L773.5,436.4 L776.0,438.7 L778.4,441.0 L780.9,443.2 L783.3,445.5 L785.8,447.7 L788.2,449.9 L790.7,452.2 L793.2,454.4 L795.6,456.6 L798.1,458.7 L800.5,460.9 L803.0,463.0 L805.5,465.2 L807.9,467.3 L810.4,469.4 L812.8,471.5 L815.3,473.6 L817.7,475.7 L820.2,477.8" stroke="#4a4262" stroke-width="2.4" fill="none" stroke-dasharray="17,16"/>
<path d="M519.93,93.74 L521.41,96.45 L522.89,99.16 L524.37,101.87 L525.85,104.56 L527.34,107.25 L528.82,109.92 L530.31,112.59 L531.79,115.25 L533.28,117.90 L534.76,120.55 L536.25,123.18 L537.74,125.81 L539.22,128.43 L540.71,131.04 L542.20,133.64 L543.69,136.24 L545.17,138.82 L546.66,141.40 L548.15,143.97 L549.64,146.53 L551.13,149.08 L552.62,151.63 L554.11,154.16 L555.60,156.69 L557.09,159.21 L558.58,161.72 L560.07,164.23 L561.56,166.72 L563.05,169.21 L564.55,171.69 L566.04,174.16 L567.53,176.62 L569.02,179.08 L570.51,181.52 L572.01,183.96 L573.50,186.39 L574.99,188.81 L576.48,191.23 L577.98,193.63 L579.47,196.03 L580.97,198.42 L582.46,200.80 L583.95,203.18 L585.45,205.54 L586.94,207.90 L588.44,210.25 L589.93,212.59 L591.43,214.93 L592.92,217.25 L594.42,219.57 L595.91,221.88 L597.41,224.18 L598.90,226.47 L600.40,228.76 L601.89,231.04 L603.39,233.30 L604.89,235.57 L606.38,237.82 L607.88,240.06 L609.38,242.30 L610.87,244.53 L612.37,246.75 L613.87,248.97 L615.36,251.17 L616.86,253.37 L618.36,255.56 L619.86,257.74 L621.35,259.91 L622.85,262.08 L624.35,264.24 L625.85,266.39 L627.35,268.53 L628.84,270.66 L630.34,272.79 L631.84,274.91 L633.34,277.02 L634.84,279.12 L636.34,281.22 L637.84,283.30 L639.34,285.38 L640.84,287.45 L642.33,289.51 L643.83,291.57 L645.33,293.62 L646.83,295.66 L648.33,297.69 L649.83,299.71 L651.33,301.73 L652.83,303.74 L654.33,305.74 L655.83,307.73 L657.33,309.71 L658.83,311.69 L660.33,313.66 L661.83,315.62 L663.34,317.58 L664.84,319.52 L666.34,321.46 L667.84,323.39 L669.34,325.31 L670.84,327.23 L672.34,329.13 L673.84,331.03 L675.34,332.92 L676.84,334.81 L678.35,336.68 L679.85,338.55 L681.35,340.41 L682.85,342.27 L684.35,344.11 L685.85,345.95 L687.36,347.78 L688.86,349.60 L690.36,351.41 L691.86,353.22 L693.36,355.02 L694.86,356.81 L696.37,358.59 L697.87,360.37 L699.37,362.14 L700.87,363.90 L702.38,365.65 L703.88,367.40 L705.38,369.13 L706.88,370.86 L708.39,372.58 L709.89,374.30 L711.39,376.01 L712.89,377.71 L714.40,379.40 L715.90,381.08 L717.40,382.76 L718.90,384.43 L720.41,386.09 L721.91,387.74 L723.41,389.39 L724.92,391.02 L726.42,392.66 L727.92,394.28 L729.42,395.89 L730.93,397.50 L732.43,399.10 L733.93,400.70 L735.44,402.28 L736.94,403.86 L738.44,405.43 L739.94,406.99 L741.45,408.55 L742.95,410.09 L744.45,411.63 L745.96,413.17 L747.46,414.69 L748.96,416.21 L750.47,417.72 L751.97,419.22 L753.47,420.72 L754.97,422.20 L756.48,423.68 L757.98,425.16 L759.48,426.62 L760.99,428.08 L762.49,429.53 L763.99,430.97 L765.50,432.41 L767.00,433.84 L768.50,435.26 L770.00,436.67 L771.51,438.07 L773.01,439.47 L774.51,440.86 L776.02,442.25 L777.52,443.62 L779.02,444.99 L780.52,446.35 L782.03,447.70 L783.53,449.05 L785.03,450.39 L786.53,451.72 L788.04,453.04 L789.54,454.36 L791.04,455.67 L792.54,456.97 L794.04,458.26 L795.55,459.55 L797.05,460.83 L798.55,462.10 L800.05,463.37 L801.55,464.63 L803.06,465.88 L804.56,467.12 L806.06,468.35 L807.56,469.58 L809.06,470.80 L810.56,472.02 L812.07,473.22 L813.57,474.42 L815.07,475.61 L816.57,476.80 L818.07,477.98 L819.57,479.14 L820.70,477.75 L819.24,476.54 L817.78,475.32 L816.31,474.10 L814.85,472.87 L813.39,471.64 L811.92,470.40 L810.46,469.15 L809.00,467.89 L807.53,466.62 L806.07,465.35 L804.61,464.08 L803.15,462.79 L801.68,461.50 L800.22,460.20 L798.76,458.89 L797.30,457.58 L795.83,456.26 L794.37,454.93 L792.91,453.60 L791.45,452.25 L789.98,450.91 L788.52,449.55 L787.06,448.19 L785.60,446.82 L784.13,445.44 L782.67,444.05 L781.21,442.66 L779.75,441.26 L778.29,439.86 L776.82,438.44 L775.36,437.02 L773.90,435.59 L772.44,434.16 L770.98,432.72 L769.51,431.27 L768.05,429.81 L766.59,428.35 L765.13,426.87 L763.67,425.40 L762.21,423.91 L760.74,422.42 L759.28,420.92 L757.82,419.41 L756.36,417.90 L754.90,416.37 L753.44,414.84 L751.98,413.31 L750.51,411.76 L749.05,410.21 L747.59,408.66 L746.13,407.09 L744.67,405.52 L743.21,403.94 L741.75,402.35 L740.29,400.75 L738.83,399.15 L737.36,397.54 L735.90,395.93 L734.44,394.30 L732.98,392.67 L731.52,391.03 L730.06,389.38 L728.60,387.73 L727.14,386.07 L725.68,384.40 L724.22,382.73 L722.76,381.04 L721.30,379.35 L719.84,377.65 L718.37,375.95 L716.91,374.24 L715.45,372.52 L713.99,370.79 L712.53,369.05 L711.07,367.31 L709.61,365.56 L708.15,363.80 L706.69,362.04 L705.23,360.27 L703.77,358.49 L702.31,356.70 L700.85,354.90 L699.39,353.10 L697.93,351.29 L696.47,349.47 L695.01,347.65 L693.55,345.82 L692.09,343.98 L690.63,342.13 L689.17,340.28 L687.71,338.41 L686.25,336.54 L684.79,334.67 L683.33,332.78 L681.87,330.89 L680.41,328.99 L678.95,327.08 L677.49,325.17 L676.03,323.24 L674.57,321.31 L673.11,319.38 L671.65,317.43 L670.19,315.48 L668.73,313.52 L667.27,311.55 L665.81,309.57 L664.35,307.59 L662.89,305.60 L661.43,303.60 L659.97,301.59 L658.51,299.58 L657.05,297.56 L655.59,295.53 L654.13,293.49 L652.67,291.44 L651.21,289.39 L649.75,287.33 L648.29,285.26 L646.83,283.19 L645.37,281.11 L643.91,279.01 L642.45,276.92 L640.99,274.81 L639.53,272.70 L638.07,270.57 L636.61,268.44 L635.15,266.31 L633.69,264.16 L632.23,262.01 L630.77,259.85 L629.31,257.68 L627.86,255.50 L626.40,253.32 L624.94,251.13 L623.48,248.93 L622.02,246.72 L620.56,244.51 L619.10,242.29 L617.64,240.06 L616.18,237.82 L614.72,235.57 L613.26,233.32 L611.80,231.06 L610.34,228.79 L608.88,226.51 L607.42,224.22 L605.96,221.93 L604.50,219.63 L603.05,217.32 L601.59,215.00 L600.13,212.68 L598.67,210.35 L597.21,208.01 L595.75,205.66 L594.29,203.30 L592.83,200.94 L591.37,198.57 L589.91,196.19 L588.45,193.80 L586.99,191.40 L585.53,189.00 L584.07,186.59 L582.62,184.17 L581.16,181.74 L579.70,179.30 L578.24,176.86 L576.78,174.41 L575.32,171.95 L573.86,169.48 L572.40,167.01 L570.94,164.52 L569.48,162.03 L568.02,159.53 L566.56,157.03 L565.11,154.51 L563.65,151.99 L562.19,149.46 L560.73,146.92 L559.27,144.37 L557.81,141.81 L556.35,139.25 L554.89,136.68 L553.43,134.10 L551.97,131.51 L550.51,128.92 L549.05,126.31 L547.60,123.70 L546.14,121.08 L544.68,118.45 L543.22,115.82 L541.76,113.17 L540.30,110.52 L538.84,107.86 L537.38,105.19 L535.92,102.52 L534.46,99.83 L533.00,97.14 L531.55,94.44 L530.09,91.73 L528.63,89.01 Z" fill="url(#hg)" opacity="0.8"/>
<path d="M522.04,92.59 L523.51,95.31 L524.99,98.01 L526.47,100.72 L527.95,103.41 L529.43,106.09 L530.91,108.77 L532.39,111.44 L533.87,114.10 L535.35,116.75 L536.83,119.39 L538.31,122.03 L539.79,124.66 L541.27,127.27 L542.75,129.88 L544.23,132.49 L545.71,135.08 L547.19,137.67 L548.67,140.25 L550.15,142.82 L551.64,145.38 L553.12,147.93 L554.60,150.48 L556.08,153.01 L557.56,155.54 L559.05,158.06 L560.53,160.58 L562.01,163.08 L563.49,165.58 L564.98,168.07 L566.46,170.55 L567.94,173.02 L569.43,175.48 L570.91,177.94 L572.39,180.39 L573.88,182.83 L575.36,185.26 L576.84,187.69 L578.33,190.10 L579.81,192.51 L581.30,194.91 L582.78,197.30 L584.27,199.69 L585.75,202.06 L587.23,204.43 L588.72,206.79 L590.20,209.14 L591.69,211.48 L593.17,213.82 L594.66,216.15 L596.14,218.47 L597.63,220.78 L599.11,223.09 L600.60,225.38 L602.08,227.67 L603.57,229.95 L605.06,232.22 L606.54,234.49 L608.03,236.74 L609.51,238.99 L611.00,241.23 L612.48,243.47 L613.97,245.69 L615.46,247.91 L616.94,250.12 L618.43,252.32 L619.92,254.51 L621.40,256.70 L622.89,258.87 L624.38,261.04 L625.86,263.20 L627.35,265.36 L628.84,267.50 L630.32,269.64 L631.81,271.77 L633.30,273.90 L634.78,276.01 L636.27,278.12 L637.76,280.22 L639.25,282.31 L640.73,284.39 L642.22,286.47 L643.71,288.53 L645.20,290.59 L646.68,292.65 L648.17,294.69 L649.66,296.73 L651.15,298.76 L652.64,300.78 L654.12,302.79 L655.61,304.80 L657.10,306.79 L658.59,308.78 L660.08,310.77 L661.56,312.74 L663.05,314.71 L664.54,316.67 L666.03,318.62 L667.52,320.56 L669.01,322.50 L670.50,324.43 L671.98,326.35 L673.47,328.26 L674.96,330.17 L676.45,332.06 L677.94,333.95 L679.43,335.84 L680.92,337.71 L682.41,339.58 L683.90,341.44 L685.39,343.29 L686.87,345.13 L688.36,346.97 L689.85,348.80 L691.34,350.62 L692.83,352.43 L694.32,354.24 L695.81,356.03 L697.30,357.83 L698.79,359.61 L700.28,361.38 L701.77,363.15 L703.26,364.91 L704.75,366.66 L706.24,368.41 L707.73,370.15 L709.22,371.88 L710.71,373.60 L712.20,375.31 L713.69,377.02 L715.18,378.72 L716.67,380.41 L718.16,382.10 L719.65,383.77 L721.14,385.44 L722.63,387.10 L724.12,388.76 L725.61,390.40 L727.10,392.04 L728.59,393.68 L730.08,395.30 L731.57,396.92 L733.06,398.53 L734.55,400.13 L736.04,401.72 L737.53,403.31 L739.02,404.89 L740.51,406.46 L742.00,408.03 L743.49,409.58 L744.98,411.13 L746.47,412.67 L747.96,414.21 L749.45,415.74 L750.95,417.26 L752.44,418.77 L753.93,420.27 L755.42,421.77 L756.91,423.26 L758.40,424.74 L759.89,426.22 L761.38,427.69 L762.87,429.15 L764.36,430.60 L765.85,432.05 L767.34,433.48 L768.83,434.92 L770.32,436.34 L771.81,437.76 L773.30,439.16 L774.80,440.57 L776.29,441.96 L777.78,443.35 L779.27,444.73 L780.76,446.10 L782.25,447.46 L783.74,448.82 L785.23,450.17 L786.72,451.52 L788.21,452.85 L789.70,454.18 L791.19,455.50 L792.68,456.81 L794.17,458.12 L795.66,459.42 L797.15,460.71 L798.64,462.00 L800.13,463.27 L801.63,464.54 L803.12,465.81 L804.61,467.06 L806.10,468.31 L807.59,469.55 L809.08,470.79 L810.57,472.01 L812.06,473.23 L813.55,474.45 L815.04,475.65 L816.53,476.85 L818.02,478.04 L819.51,479.22 L820.92,477.48 L819.46,476.27 L817.99,475.06 L816.52,473.85 L815.06,472.62 L813.59,471.39 L812.13,470.15 L810.66,468.91 L809.19,467.66 L807.73,466.40 L806.26,465.13 L804.80,463.86 L803.33,462.58 L801.86,461.29 L800.40,460.00 L798.93,458.69 L797.47,457.39 L796.00,456.07 L794.53,454.75 L793.07,453.42 L791.60,452.08 L790.14,450.74 L788.67,449.38 L787.21,448.03 L785.74,446.66 L784.27,445.29 L782.81,443.91 L781.34,442.52 L779.88,441.12 L778.41,439.72 L776.95,438.31 L775.48,436.90 L774.01,435.47 L772.55,434.04 L771.08,432.61 L769.62,431.16 L768.15,429.71 L766.69,428.25 L765.22,426.78 L763.76,425.31 L762.29,423.83 L760.83,422.34 L759.36,420.84 L757.89,419.34 L756.43,417.83 L754.96,416.31 L753.50,414.79 L752.03,413.25 L750.57,411.71 L749.10,410.17 L747.64,408.61 L746.17,407.05 L744.71,405.48 L743.24,403.91 L741.78,402.32 L740.31,400.73 L738.85,399.13 L737.38,397.53 L735.92,395.91 L734.45,394.29 L732.99,392.67 L731.52,391.03 L730.06,389.39 L728.59,387.74 L727.13,386.08 L725.66,384.42 L724.20,382.75 L722.73,381.07 L721.26,379.38 L719.80,377.68 L718.33,375.98 L716.87,374.27 L715.40,372.56 L713.94,370.83 L712.47,369.10 L711.01,367.36 L709.54,365.62 L708.08,363.86 L706.61,362.10 L705.15,360.33 L703.69,358.56 L702.22,356.77 L700.76,354.98 L699.29,353.18 L697.83,351.38 L696.36,349.56 L694.90,347.74 L693.43,345.91 L691.97,344.08 L690.50,342.23 L689.04,340.38 L687.57,338.52 L686.11,336.65 L684.64,334.78 L683.18,332.90 L681.71,331.01 L680.25,329.11 L678.78,327.21 L677.32,325.30 L675.85,323.38 L674.39,321.45 L672.92,319.52 L671.46,317.57 L669.99,315.62 L668.53,313.67 L667.06,311.70 L665.60,309.73 L664.13,307.75 L662.67,305.76 L661.20,303.76 L659.74,301.76 L658.28,299.75 L656.81,297.73 L655.35,295.70 L653.88,293.67 L652.42,291.63 L650.95,289.58 L649.49,287.52 L648.02,285.45 L646.56,283.38 L645.09,281.30 L643.63,279.21 L642.16,277.12 L640.70,275.01 L639.23,272.90 L637.77,270.78 L636.30,268.66 L634.84,266.52 L633.38,264.38 L631.91,262.23 L630.45,260.07 L628.98,257.91 L627.52,255.73 L626.05,253.55 L624.59,251.36 L623.12,249.17 L621.66,246.96 L620.19,244.75 L618.73,242.53 L617.26,240.30 L615.80,238.07 L614.34,235.82 L612.87,233.57 L611.41,231.31 L609.94,229.05 L608.48,226.77 L607.01,224.49 L605.55,222.20 L604.08,219.90 L602.62,217.59 L601.15,215.28 L599.69,212.96 L598.22,210.63 L596.76,208.29 L595.30,205.94 L593.83,203.59 L592.37,201.23 L590.90,198.86 L589.44,196.48 L587.97,194.09 L586.51,191.70 L585.04,189.30 L583.58,186.89 L582.11,184.47 L580.65,182.05 L579.18,179.61 L577.72,177.17 L576.26,174.72 L574.79,172.27 L573.33,169.80 L571.86,167.33 L570.40,164.85 L568.93,162.36 L567.47,159.86 L566.00,157.36 L564.54,154.84 L563.07,152.32 L561.61,149.79 L560.15,147.26 L558.68,144.71 L557.22,142.16 L555.75,139.60 L554.29,137.03 L552.82,134.45 L551.36,131.86 L549.89,129.27 L548.43,126.67 L546.96,124.06 L545.50,121.44 L544.03,118.81 L542.57,116.18 L541.11,113.54 L539.64,110.89 L538.18,108.23 L536.71,105.56 L535.25,102.89 L533.78,100.20 L532.32,97.51 L530.85,94.81 L529.39,92.11 L527.92,89.39 Z" fill="url(#rg)" opacity="0.88"/>
<path d="M523.27,91.92 L524.74,94.64 L526.22,97.34 L527.70,100.04 L529.17,102.74 L530.65,105.42 L532.13,108.10 L533.60,110.76 L535.08,113.42 L536.56,116.07 L538.03,118.72 L539.51,121.35 L540.99,123.98 L542.47,126.60 L543.94,129.21 L545.42,131.81 L546.90,134.41 L548.38,136.99 L549.85,139.57 L551.33,142.14 L552.81,144.70 L554.29,147.25 L555.76,149.80 L557.24,152.34 L558.72,154.87 L560.20,157.39 L561.68,159.90 L563.16,162.41 L564.63,164.90 L566.11,167.39 L567.59,169.87 L569.07,172.35 L570.55,174.81 L572.03,177.27 L573.51,179.72 L574.99,182.16 L576.46,184.59 L577.94,187.02 L579.42,189.43 L580.90,191.84 L582.38,194.24 L583.86,196.63 L585.34,199.02 L586.82,201.40 L588.30,203.76 L589.78,206.13 L591.26,208.48 L592.74,210.82 L594.22,213.16 L595.70,215.49 L597.18,217.81 L598.66,220.12 L600.14,222.43 L601.62,224.72 L603.10,227.01 L604.58,229.30 L606.06,231.57 L607.54,233.83 L609.02,236.09 L610.50,238.34 L611.98,240.58 L613.46,242.82 L614.95,245.04 L616.43,247.26 L617.91,249.47 L619.39,251.67 L620.87,253.87 L622.35,256.05 L623.83,258.23 L625.31,260.40 L626.80,262.57 L628.28,264.72 L629.76,266.87 L631.24,269.01 L632.72,271.14 L634.20,273.26 L635.69,275.38 L637.17,277.49 L638.65,279.59 L640.13,281.68 L641.61,283.77 L643.10,285.84 L644.58,287.91 L646.06,289.97 L647.54,292.03 L649.03,294.07 L650.51,296.11 L651.99,298.14 L653.47,300.17 L654.96,302.18 L656.44,304.19 L657.92,306.19 L659.40,308.18 L660.89,310.16 L662.37,312.14 L663.85,314.11 L665.34,316.07 L666.82,318.02 L668.30,319.97 L669.79,321.90 L671.27,323.83 L672.75,325.76 L674.24,327.67 L675.72,329.58 L677.20,331.48 L678.69,333.37 L680.17,335.25 L681.66,337.13 L683.14,339.00 L684.62,340.86 L686.11,342.71 L687.59,344.56 L689.08,346.40 L690.56,348.23 L692.04,350.05 L693.53,351.86 L695.01,353.67 L696.50,355.47 L697.98,357.26 L699.47,359.05 L700.95,360.83 L702.43,362.60 L703.92,364.36 L705.40,366.11 L706.89,367.86 L708.37,369.60 L709.86,371.33 L711.34,373.05 L712.83,374.77 L714.31,376.48 L715.80,378.18 L717.28,379.88 L718.77,381.56 L720.25,383.24 L721.74,384.91 L723.22,386.58 L724.71,388.23 L726.19,389.88 L727.68,391.52 L729.17,393.16 L730.65,394.78 L732.14,396.40 L733.62,398.01 L735.11,399.62 L736.59,401.21 L738.08,402.80 L739.56,404.38 L741.05,405.96 L742.54,407.52 L744.02,409.08 L745.51,410.63 L746.99,412.18 L748.48,413.72 L749.96,415.24 L751.45,416.77 L752.94,418.28 L754.42,419.79 L755.91,421.29 L757.39,422.78 L758.88,424.27 L760.37,425.74 L761.85,427.21 L763.34,428.68 L764.83,430.13 L766.31,431.58 L767.80,433.02 L769.28,434.45 L770.77,435.88 L772.26,437.30 L773.74,438.71 L775.23,440.11 L776.72,441.51 L778.20,442.90 L779.69,444.28 L781.17,445.65 L782.66,447.02 L784.15,448.38 L785.63,449.73 L787.12,451.08 L788.61,452.42 L790.09,453.75 L791.58,455.07 L793.07,456.39 L794.55,457.70 L796.04,459.00 L797.53,460.29 L799.01,461.58 L800.50,462.86 L801.98,464.13 L803.47,465.39 L804.96,466.65 L806.44,467.90 L807.93,469.15 L809.42,470.38 L810.90,471.61 L812.39,472.83 L813.88,474.05 L815.36,475.26 L816.85,476.46 L818.34,477.65 L819.82,478.83" stroke="#b03a55" stroke-width="0.8" fill="none" opacity="0.5"/>
<path d="M527.92,89.39 L529.39,92.11 L530.85,94.81 L532.32,97.51 L533.78,100.20 L535.25,102.89 L536.71,105.56 L538.18,108.23 L539.64,110.89 L541.11,113.54 L542.57,116.18 L544.03,118.81 L545.50,121.44 L546.96,124.06 L548.43,126.67 L549.89,129.27 L551.36,131.86 L552.82,134.45 L554.29,137.03 L555.75,139.60 L557.22,142.16 L558.68,144.71 L560.15,147.26 L561.61,149.79 L563.07,152.32 L564.54,154.84 L566.00,157.36 L567.47,159.86 L568.93,162.36 L570.40,164.85 L571.86,167.33 L573.33,169.80 L574.79,172.27 L576.26,174.72 L577.72,177.17 L579.18,179.61 L580.65,182.05 L582.11,184.47 L583.58,186.89 L585.04,189.30 L586.51,191.70 L587.97,194.09 L589.44,196.48 L590.90,198.86 L592.37,201.23 L593.83,203.59 L595.30,205.94 L596.76,208.29 L598.22,210.63 L599.69,212.96 L601.15,215.28 L602.62,217.59 L604.08,219.90 L605.55,222.20 L607.01,224.49 L608.48,226.77 L609.94,229.05 L611.41,231.31 L612.87,233.57 L614.34,235.82 L615.80,238.07 L617.26,240.30 L618.73,242.53 L620.19,244.75 L621.66,246.96 L623.12,249.17 L624.59,251.36 L626.05,253.55 L627.52,255.73 L628.98,257.91 L630.45,260.07 L631.91,262.23 L633.38,264.38 L634.84,266.52 L636.30,268.66 L637.77,270.78 L639.23,272.90 L640.70,275.01 L642.16,277.12 L643.63,279.21 L645.09,281.30 L646.56,283.38 L648.02,285.45 L649.49,287.52 L650.95,289.58 L652.42,291.63 L653.88,293.67 L655.35,295.70 L656.81,297.73 L658.28,299.75 L659.74,301.76 L661.20,303.76 L662.67,305.76 L664.13,307.75 L665.60,309.73 L667.06,311.70 L668.53,313.67 L669.99,315.62 L671.46,317.57 L672.92,319.52 L674.39,321.45 L675.85,323.38 L677.32,325.30 L678.78,327.21 L680.25,329.11 L681.71,331.01 L683.18,332.90 L684.64,334.78 L686.11,336.65 L687.57,338.52 L689.04,340.38 L690.50,342.23 L691.97,344.08 L693.43,345.91 L694.90,347.74 L696.36,349.56 L697.83,351.38 L699.29,353.18 L700.76,354.98 L702.22,356.77 L703.69,358.56 L705.15,360.33 L706.61,362.10 L708.08,363.86 L709.54,365.62 L711.01,367.36 L712.47,369.10 L713.94,370.83 L715.40,372.56 L716.87,374.27 L718.33,375.98 L719.80,377.68 L721.26,379.38 L722.73,381.07 L724.20,382.75 L725.66,384.42 L727.13,386.08 L728.59,387.74 L730.06,389.39 L731.52,391.03 L732.99,392.67 L734.45,394.29 L735.92,395.91 L737.38,397.53 L738.85,399.13 L740.31,400.73 L741.78,402.32 L743.24,403.91 L744.71,405.48 L746.17,407.05 L747.64,408.61 L749.10,410.17 L750.57,411.71 L752.03,413.25 L753.50,414.79 L754.96,416.31 L756.43,417.83 L757.89,419.34 L759.36,420.84 L760.83,422.34 L762.29,423.83 L763.76,425.31 L765.22,426.78 L766.69,428.25 L768.15,429.71 L769.62,431.16 L771.08,432.61 L772.55,434.04 L774.01,435.47 L775.48,436.90 L776.95,438.31 L778.41,439.72 L779.88,441.12 L781.34,442.52 L782.81,443.91 L784.27,445.29 L785.74,446.66 L787.21,448.03 L788.67,449.38 L790.14,450.74 L791.60,452.08 L793.07,453.42 L794.53,454.75 L796.00,456.07 L797.47,457.39 L798.93,458.69 L800.40,460.00 L801.86,461.29 L803.33,462.58 L804.80,463.86 L806.26,465.13 L807.73,466.40 L809.19,467.66 L810.66,468.91 L812.13,470.15 L813.59,471.39 L815.06,472.62 L816.52,473.85 L817.99,475.06 L819.46,476.27 L820.92,477.48" stroke="#84456a" stroke-width="1.0" fill="none" opacity="0.85"/>
<path d="M516.6,56.0 H828.5 V497.7 H516.6 Z" stroke="#6e6e6e" stroke-width="2" fill="none"/>
<path d="M599.2,109.8 L556.3,128.5" stroke="#6e948e" stroke-width="1.3" fill="none"/>
<path d="M622.8,159.4 L583.5,180.1" stroke="#d49a7c" stroke-width="1.3" fill="none"/>
<path d="M634.6,218.4 L615.9,232.7" stroke="#7480a0" stroke-width="1.3" fill="none"/>
<path d="M551.2,291.6 L596.6,252.2" stroke="#7a6e74" stroke-width="1.2" fill="none"/>
<circle cx="596.6" cy="252.2" r="1.8" fill="#333"/>
<path d="M587.4,359 L636.9,316.5" stroke="#444" stroke-width="1.2" fill="none"/>
<circle cx="636.9" cy="316.5" r="1.8" fill="#222"/>
<text x="15.10" y="84.54" textLength="6.14" lengthAdjust="spacingAndGlyphs" style="font-family:'Liberation Sans',Arial,sans-serif;font-size:19.78px;font-weight:400;fill:#111;stroke:#111;stroke-width:0.77px">(</text>
<text x="24.60" y="86.77" textLength="9.25" lengthAdjust="spacingAndGlyphs" style="font-family:'Liberation Sans',Arial,sans-serif;font-size:19.17px;font-weight:400;fill:#111;stroke:#111;stroke-width:0.62px">a</text>
<text x="38.66" y="84.54" textLength="5.85" lengthAdjust="spacingAndGlyphs" style="font-family:'Liberation Sans',Arial,sans-serif;font-size:19.78px;font-weight:400;fill:#111;stroke:#111;stroke-width:0.77px">)</text>
<text x="474.23" y="66.66" textLength="6.69" lengthAdjust="spacingAndGlyphs" style="font-family:'Liberation Sans',Arial,sans-serif;font-size:18.95px;font-weight:400;fill:#111;stroke:#111;stroke-width:0.74px">(</text>
<text x="483.62" y="69.04" textLength="11.28" lengthAdjust="spacingAndGlyphs" style="font-family:'Liberation Sans',Arial,sans-serif;font-size:19.90px;font-weight:400;fill:#111;stroke:#111;stroke-width:0.65px">b</text>
<text x="497.74" y="66.66" textLength="5.66" lengthAdjust="spacingAndGlyphs" style="font-family:'Liberation Sans',Arial,sans-serif;font-size:18.95px;font-weight:400;fill:#111;stroke:#111;stroke-width:0.74px">)</text>
<text x="159.10" y="174.00" textLength="53.63" lengthAdjust="spacingAndGlyphs" style="font-family:'Liberation Sans',Arial,sans-serif;font-size:18.00px;font-weight:400;fill:#161616;stroke:#161616;stroke-width:0.40px">3 GPa</text>
<text x="251.00" y="174.00" textLength="80.97" lengthAdjust="spacingAndGlyphs" style="font-family:'Liberation Sans',Arial,sans-serif;font-size:18.00px;font-weight:400;fill:#161616;stroke:#161616;stroke-width:0.40px">80.5 GPa</text>
<text x="371.20" y="257.90" textLength="34.58" lengthAdjust="spacingAndGlyphs" style="font-family:'Liberation Sans',Arial,sans-serif;font-size:17.50px;font-weight:400;fill:#161616;stroke:#161616;stroke-width:0.40px">x 10</text>
<text x="121.65" y="134.30" textLength="13.59" lengthAdjust="spacingAndGlyphs" style="font-family:'Liberation Sans',Arial,sans-serif;font-size:18.00px;font-weight:400;fill:#161616;stroke:#161616;stroke-width:0.40px">R</text>
<text x="136.20" y="141.00" textLength="3.88" lengthAdjust="spacingAndGlyphs" style="font-family:'Liberation Sans',Arial,sans-serif;font-size:11.00px;font-weight:400;fill:#161616;stroke:#161616;stroke-width:0.60px">1</text>
<text x="97.80" y="215.10" textLength="14.30" lengthAdjust="spacingAndGlyphs" style="font-family:'Liberation Sans',Arial,sans-serif;font-size:18.00px;font-weight:400;fill:#161616;stroke:#161616;stroke-width:0.40px">R</text>
<text x="112.00" y="222.30" textLength="6.19" lengthAdjust="spacingAndGlyphs" style="font-family:'Liberation Sans',Arial,sans-serif;font-size:11.50px;font-weight:400;fill:#161616;stroke:#161616;stroke-width:0.60px">2</text>
<text x="272.70" y="282.40" textLength="14.30" lengthAdjust="spacingAndGlyphs" style="font-family:'Liberation Sans',Arial,sans-serif;font-size:18.00px;font-weight:400;fill:#161616;stroke:#161616;stroke-width:0.40px">R</text>
<text x="287.00" y="289.30" textLength="6.41" lengthAdjust="spacingAndGlyphs" style="font-family:'Liberation Sans',Arial,sans-serif;font-size:11.50px;font-weight:400;fill:#161616;stroke:#161616;stroke-width:0.60px">2</text>
<text x="303.75" y="247.30" textLength="15.01" lengthAdjust="spacingAndGlyphs" style="font-family:'Liberation Sans',Arial,sans-serif;font-size:18.00px;font-weight:400;fill:#161616;stroke:#161616;stroke-width:0.40px">R</text>
<text x="319.00" y="254.70" textLength="3.88" lengthAdjust="spacingAndGlyphs" style="font-family:'Liberation Sans',Arial,sans-serif;font-size:11.00px;font-weight:400;fill:#161616;stroke:#161616;stroke-width:0.60px">1</text>
<text x="60.80" y="475.80" textLength="24.48" lengthAdjust="spacingAndGlyphs" style="font-family:'Liberation Sans',Arial,sans-serif;font-size:15.50px;font-weight:400;fill:#161616;stroke:#161616;stroke-width:0.40px">690</text>
<text x="112.70" y="475.80" textLength="24.48" lengthAdjust="spacingAndGlyphs" style="font-family:'Liberation Sans',Arial,sans-serif;font-size:15.50px;font-weight:400;fill:#161616;stroke:#161616;stroke-width:0.40px">695</text>
<text x="164.80" y="475.80" textLength="24.48" lengthAdjust="spacingAndGlyphs" style="font-family:'Liberation Sans',Arial,sans-serif;font-size:15.50px;font-weight:400;fill:#161616;stroke:#161616;stroke-width:0.40px">700</text>
<text x="216.00" y="475.80" textLength="24.48" lengthAdjust="spacingAndGlyphs" style="font-family:'Liberation Sans',Arial,sans-serif;font-size:15.50px;font-weight:400;fill:#161616;stroke:#161616;stroke-width:0.40px">705</text>
<text x="252.30" y="475.80" textLength="24.48" lengthAdjust="spacingAndGlyphs" style="font-family:'Liberation Sans',Arial,sans-serif;font-size:15.50px;font-weight:400;fill:#161616;stroke:#161616;stroke-width:0.40px">715</text>
<text x="297.00" y="475.80" textLength="24.48" lengthAdjust="spacingAndGlyphs" style="font-family:'Liberation Sans',Arial,sans-serif;font-size:15.50px;font-weight:400;fill:#161616;stroke:#161616;stroke-width:0.40px">720</text>
<text x="340.60" y="475.80" textLength="24.48" lengthAdjust="spacingAndGlyphs" style="font-family:'Liberation Sans',Arial,sans-serif;font-size:15.50px;font-weight:400;fill:#161616;stroke:#161616;stroke-width:0.40px">725</text>
<text x="384.40" y="475.80" textLength="24.48" lengthAdjust="spacingAndGlyphs" style="font-family:'Liberation Sans',Arial,sans-serif;font-size:15.50px;font-weight:400;fill:#161616;stroke:#161616;stroke-width:0.40px">730</text>
<text x="179.80" y="500.00" textLength="124.17" lengthAdjust="spacingAndGlyphs" style="font-family:'Liberation Serif','Times New Roman',serif;font-size:17.00px;font-weight:400;fill:#111;stroke:#111;stroke-width:0.40px">Wavelength(cm<tspan font-size="8" dy="-6.5">-1</tspan><tspan dy="6.5">)</tspan></text>
<text x="0" y="0" transform="translate(35.40,331.41) rotate(-90)" textLength="123.40" lengthAdjust="spacingAndGlyphs" style="font-family:'Liberation Sans',Arial,sans-serif;font-size:17.50px;font-weight:400;fill:#1a1a1a;stroke:#1a1a1a;stroke-width:0.40px">Intensity (a.u.)</text>
<text x="576.83" y="32.60" textLength="191.39" lengthAdjust="spacingAndGlyphs" style="font-family:'Liberation Sans',Arial,sans-serif;font-size:16.50px;font-weight:400;fill:#505050;stroke:#505050;stroke-width:0.15px">Frequency shift <tspan style="font-family:'Liberation Serif','Times New Roman',serif" font-size="13.5">&#916;&#957;</tspan> (cm<tspan font-size="10" dy="-6">-1</tspan><tspan dy="6">)</tspan></text>
<text x="527.50" y="51.00" textLength="40.00" lengthAdjust="spacingAndGlyphs" style="font-family:'Liberation Sans',Arial,sans-serif;font-size:14.50px;font-weight:400;fill:#505050;stroke:#505050;stroke-width:0.15px">-1000</text>
<text x="586.50" y="51.00" textLength="30.03" lengthAdjust="spacingAndGlyphs" style="font-family:'Liberation Sans',Arial,sans-serif;font-size:14.50px;font-weight:400;fill:#505050;stroke:#505050;stroke-width:0.15px">-800</text>
<text x="641.00" y="51.00" textLength="30.03" lengthAdjust="spacingAndGlyphs" style="font-family:'Liberation Sans',Arial,sans-serif;font-size:14.50px;font-weight:400;fill:#505050;stroke:#505050;stroke-width:0.15px">-600</text>
<text x="695.90" y="51.00" textLength="30.13" lengthAdjust="spacingAndGlyphs" style="font-family:'Liberation Sans',Arial,sans-serif;font-size:14.50px;font-weight:400;fill:#505050;stroke:#505050;stroke-width:0.15px">-400</text>
<text x="750.30" y="51.00" textLength="29.33" lengthAdjust="spacingAndGlyphs" style="font-family:'Liberation Sans',Arial,sans-serif;font-size:14.50px;font-weight:400;fill:#505050;stroke:#505050;stroke-width:0.15px">-200</text>
<text x="816.20" y="51.00" textLength="8.18" lengthAdjust="spacingAndGlyphs" style="font-family:'Liberation Sans',Arial,sans-serif;font-size:14.50px;font-weight:400;fill:#505050;stroke:#505050;stroke-width:0.15px">0</text>
<text x="568.90" y="516.00" textLength="30.11" lengthAdjust="spacingAndGlyphs" style="font-family:'Liberation Sans',Arial,sans-serif;font-size:15.00px;font-weight:400;fill:#505050;stroke:#505050;stroke-width:0.15px">0.94</text>
<text x="648.20" y="516.00" textLength="29.30" lengthAdjust="spacingAndGlyphs" style="font-family:'Liberation Sans',Arial,sans-serif;font-size:15.00px;font-weight:400;fill:#505050;stroke:#505050;stroke-width:0.15px">0.96</text>
<text x="726.40" y="516.00" textLength="31.02" lengthAdjust="spacingAndGlyphs" style="font-family:'Liberation Sans',Arial,sans-serif;font-size:15.00px;font-weight:400;fill:#505050;stroke:#505050;stroke-width:0.15px">0.98</text>
<text x="803.91" y="516.00" textLength="31.71" lengthAdjust="spacingAndGlyphs" style="font-family:'Liberation Sans',Arial,sans-serif;font-size:15.00px;font-weight:400;fill:#505050;stroke:#505050;stroke-width:0.15px">1.00</text>
<text x="487.60" y="133.20" textLength="25.38" lengthAdjust="spacingAndGlyphs" style="font-family:'Liberation Sans',Arial,sans-serif;font-size:15.50px;font-weight:400;fill:#505050;stroke:#505050;stroke-width:0.15px">200</text>
<text x="486.58" y="220.60" textLength="26.39" lengthAdjust="spacingAndGlyphs" style="font-family:'Liberation Sans',Arial,sans-serif;font-size:15.50px;font-weight:400;fill:#505050;stroke:#505050;stroke-width:0.15px">150</text>
<text x="486.58" y="308.00" textLength="26.39" lengthAdjust="spacingAndGlyphs" style="font-family:'Liberation Sans',Arial,sans-serif;font-size:15.50px;font-weight:400;fill:#505050;stroke:#505050;stroke-width:0.15px">100</text>
<text x="496.10" y="395.40" textLength="17.25" lengthAdjust="spacingAndGlyphs" style="font-family:'Liberation Sans',Arial,sans-serif;font-size:15.50px;font-weight:400;fill:#505050;stroke:#505050;stroke-width:0.15px">50</text>
<text x="505.20" y="482.80" textLength="8.52" lengthAdjust="spacingAndGlyphs" style="font-family:'Liberation Sans',Arial,sans-serif;font-size:15.50px;font-weight:400;fill:#505050;stroke:#505050;stroke-width:0.15px">0</text>
<text x="584.14" y="534.10" textLength="176.64" lengthAdjust="spacingAndGlyphs" style="font-family:'Liberation Sans',Arial,sans-serif;font-size:16.50px;font-weight:400;fill:#505050;stroke:#505050;stroke-width:0.15px">Relative frequency <tspan style="font-family:'Liberation Serif','Times New Roman',serif">&#957;/&#957;</tspan><tspan font-size="11" dy="3.5">0</tspan></text>
<text x="0" y="0" transform="translate(476.00,337.36) rotate(-90)" textLength="121.42" lengthAdjust="spacingAndGlyphs" style="font-family:'Liberation Sans',Arial,sans-serif;font-size:16.50px;font-weight:400;fill:#505050;stroke:#505050;stroke-width:0.15px">Pressure (GPa)</text>
<text x="729.30" y="93.00" textLength="61.79" lengthAdjust="spacingAndGlyphs" style="font-family:'Liberation Sans',Arial,sans-serif;font-size:15.00px;font-weight:400;fill:#454545;stroke:#454545;stroke-width:0.15px">Al<tspan font-size="11" dy="4">2</tspan><tspan dy="-4">O</tspan><tspan font-size="11" dy="4">3</tspan><tspan dy="-4">:Cr</tspan></text>
<text x="736.53" y="116.60" textLength="43.17" lengthAdjust="spacingAndGlyphs" style="font-family:'Liberation Sans',Arial,sans-serif;font-size:13.00px;font-weight:400;fill:#454545;stroke:#454545;stroke-width:0.45px">R1 line</text>
<text x="557.70" y="98.90" textLength="108.48" lengthAdjust="spacingAndGlyphs" style="font-family:'Liberation Sans',Arial,sans-serif;font-size:13.50px;font-weight:400;fill:#62928a;stroke:#62928a;stroke-width:0.45px">Aleksandrov 1987</text>
<text x="587.10" y="145.70" textLength="58.16" lengthAdjust="spacingAndGlyphs" style="font-family:'Liberation Sans',Arial,sans-serif;font-size:13.50px;font-weight:400;fill:#c98a72;stroke:#c98a72;stroke-width:0.45px">"Revised"</text>
<text x="641.16" y="222.20" textLength="62.39" lengthAdjust="spacingAndGlyphs" style="font-family:'Liberation Sans',Arial,sans-serif;font-size:13.50px;font-weight:400;fill:#7e6d8e;stroke:#7e6d8e;stroke-width:0.45px">Mao 1986</text>
<text x="533.78" y="314.70" textLength="61.17" lengthAdjust="spacingAndGlyphs" style="font-family:'Liberation Sans',Arial,sans-serif;font-size:13.50px;font-weight:400;fill:#7e6d8e;stroke:#7e6d8e;stroke-width:0.45px">Mao 1978</text>
<text x="533.97" y="383.90" textLength="97.50" lengthAdjust="spacingAndGlyphs" style="font-family:'Liberation Sans',Arial,sans-serif;font-size:13.50px;font-weight:400;fill:#484848;stroke:#484848;stroke-width:0.45px">Piermarini 1975</text>
</svg>
</body></html>
